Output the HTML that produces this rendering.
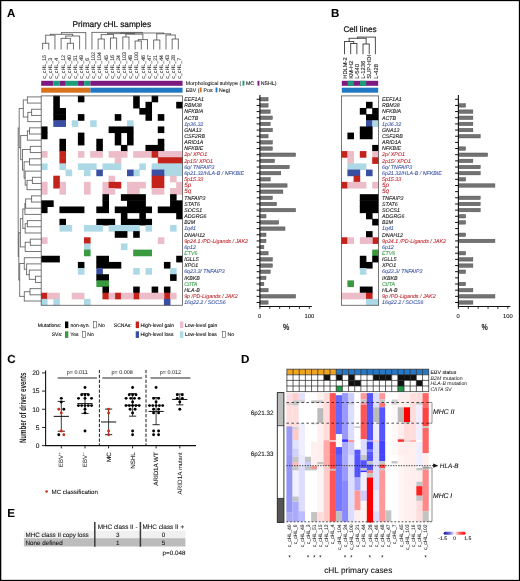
<!DOCTYPE html>
<html><head><meta charset="utf-8"><title>cHL figure</title>
<style>html,body{margin:0;padding:0;background:#fff}svg{display:block}text{font-family:"Liberation Sans",sans-serif;text-rendering:geometricPrecision}</style></head>
<body>
<svg width="520" height="581" viewBox="0 0 520 581">
<rect x="0" y="0" width="520" height="581" fill="#fff"/>
<rect x="41.20" y="95.90" width="141.36" height="209.37" fill="#fff" />
<rect x="53.29" y="95.65" width="6.55" height="6.66" fill="#000000" />
<rect x="77.88" y="95.65" width="6.55" height="6.66" fill="#000000" />
<rect x="133.19" y="95.65" width="6.55" height="6.66" fill="#000000" />
<rect x="151.63" y="95.65" width="6.55" height="6.66" fill="#000000" />
<rect x="53.29" y="101.81" width="6.55" height="6.66" fill="#000000" />
<rect x="133.19" y="101.81" width="6.55" height="6.66" fill="#000000" />
<rect x="145.48" y="101.81" width="6.55" height="6.66" fill="#000000" />
<rect x="176.21" y="101.81" width="6.55" height="6.66" fill="#000000" />
<rect x="53.29" y="107.97" width="12.69" height="6.66" fill="#000000" />
<rect x="139.34" y="107.97" width="12.69" height="6.66" fill="#000000" />
<rect x="53.29" y="114.12" width="12.69" height="6.66" fill="#000000" />
<rect x="77.88" y="114.12" width="6.55" height="6.66" fill="#000000" />
<rect x="114.75" y="114.12" width="6.55" height="6.66" fill="#000000" />
<rect x="145.48" y="114.12" width="6.55" height="6.66" fill="#000000" />
<rect x="157.77" y="114.12" width="6.55" height="6.66" fill="#000000" />
<rect x="53.29" y="120.28" width="12.69" height="6.66" fill="#3a4ea2" />
<rect x="71.73" y="120.28" width="6.55" height="6.66" fill="#add8e6" />
<rect x="90.17" y="120.28" width="6.55" height="6.66" fill="#add8e6" />
<rect x="127.04" y="120.28" width="6.55" height="6.66" fill="#add8e6" />
<rect x="41.00" y="126.44" width="6.55" height="6.66" fill="#000000" />
<rect x="108.61" y="126.44" width="24.98" height="6.66" fill="#000000" />
<rect x="157.77" y="126.44" width="6.55" height="6.66" fill="#000000" />
<rect x="41.00" y="132.60" width="6.55" height="6.66" fill="#000000" />
<rect x="77.88" y="132.60" width="6.55" height="6.66" fill="#000000" />
<rect x="114.75" y="132.60" width="6.55" height="6.66" fill="#000000" />
<rect x="127.04" y="132.60" width="6.55" height="6.66" fill="#000000" />
<rect x="59.44" y="138.76" width="6.55" height="6.66" fill="#000000" />
<rect x="77.88" y="138.76" width="6.55" height="6.66" fill="#000000" />
<rect x="96.31" y="138.76" width="6.55" height="6.66" fill="#000000" />
<rect x="114.75" y="138.76" width="6.55" height="6.66" fill="#000000" />
<rect x="127.04" y="138.76" width="6.55" height="6.66" fill="#000000" />
<rect x="157.77" y="138.76" width="6.55" height="6.66" fill="#000000" />
<rect x="59.44" y="144.91" width="6.55" height="6.66" fill="#000000" />
<rect x="96.31" y="144.91" width="6.55" height="6.66" fill="#000000" />
<rect x="120.90" y="144.91" width="6.55" height="6.66" fill="#000000" />
<rect x="145.48" y="144.91" width="18.84" height="6.66" fill="#000000" />
<rect x="41.00" y="151.07" width="6.55" height="6.66" fill="#ecbcc8" />
<rect x="77.88" y="151.07" width="6.55" height="6.66" fill="#ecbcc8" />
<rect x="90.17" y="151.07" width="12.69" height="6.66" fill="#ecbcc8" />
<rect x="108.61" y="151.07" width="18.84" height="6.66" fill="#ecbcc8" />
<rect x="133.19" y="151.07" width="18.84" height="6.66" fill="#ecbcc8" />
<rect x="157.77" y="151.07" width="24.98" height="6.66" fill="#ecbcc8" />
<rect x="59.44" y="151.07" width="6.55" height="6.66" fill="#c4231b" />
<rect x="151.63" y="151.07" width="6.55" height="6.66" fill="#c4231b" />
<rect x="59.44" y="157.23" width="6.55" height="6.66" fill="#c4231b" />
<rect x="157.77" y="157.23" width="24.98" height="6.66" fill="#c4231b" />
<rect x="114.75" y="157.23" width="6.55" height="6.66" fill="#ecbcc8" />
<rect x="41.00" y="163.39" width="6.55" height="6.66" fill="#add8e6" />
<rect x="59.44" y="163.39" width="6.55" height="6.66" fill="#add8e6" />
<rect x="77.88" y="163.39" width="18.84" height="6.66" fill="#add8e6" />
<rect x="102.46" y="163.39" width="18.84" height="6.66" fill="#add8e6" />
<rect x="139.34" y="163.39" width="6.55" height="6.66" fill="#add8e6" />
<rect x="151.63" y="163.39" width="31.13" height="6.66" fill="#add8e6" />
<rect x="65.58" y="169.55" width="6.55" height="6.66" fill="#add8e6" />
<rect x="84.02" y="169.55" width="6.55" height="6.66" fill="#add8e6" />
<rect x="133.19" y="169.55" width="6.55" height="6.66" fill="#add8e6" />
<rect x="163.92" y="169.55" width="18.84" height="6.66" fill="#add8e6" />
<rect x="96.31" y="169.55" width="6.55" height="6.66" fill="#3a4ea2" />
<rect x="127.04" y="169.55" width="6.55" height="6.66" fill="#3a4ea2" />
<rect x="151.63" y="169.55" width="12.69" height="6.66" fill="#3a4ea2" />
<rect x="53.29" y="175.70" width="6.55" height="6.66" fill="#c4231b" />
<rect x="151.63" y="175.70" width="12.69" height="6.66" fill="#c4231b" />
<rect x="108.61" y="175.70" width="6.55" height="6.66" fill="#ecbcc8" />
<rect x="170.07" y="175.70" width="6.55" height="6.66" fill="#ecbcc8" />
<rect x="41.00" y="181.86" width="6.55" height="6.66" fill="#ecbcc8" />
<rect x="59.44" y="181.86" width="6.55" height="6.66" fill="#ecbcc8" />
<rect x="84.02" y="181.86" width="6.55" height="6.66" fill="#ecbcc8" />
<rect x="102.46" y="181.86" width="6.55" height="6.66" fill="#ecbcc8" />
<rect x="127.04" y="181.86" width="18.84" height="6.66" fill="#ecbcc8" />
<rect x="176.21" y="181.86" width="6.55" height="6.66" fill="#ecbcc8" />
<rect x="53.29" y="181.86" width="6.55" height="6.66" fill="#c4231b" />
<rect x="108.61" y="181.86" width="12.69" height="6.66" fill="#c4231b" />
<rect x="151.63" y="181.86" width="12.69" height="6.66" fill="#c4231b" />
<rect x="41.00" y="188.02" width="6.55" height="6.66" fill="#ecbcc8" />
<rect x="59.44" y="188.02" width="6.55" height="6.66" fill="#ecbcc8" />
<rect x="84.02" y="188.02" width="6.55" height="6.66" fill="#ecbcc8" />
<rect x="102.46" y="188.02" width="12.69" height="6.66" fill="#ecbcc8" />
<rect x="127.04" y="188.02" width="12.69" height="6.66" fill="#ecbcc8" />
<rect x="151.63" y="188.02" width="12.69" height="6.66" fill="#ecbcc8" />
<rect x="170.07" y="188.02" width="12.69" height="6.66" fill="#ecbcc8" />
<rect x="102.46" y="194.18" width="6.55" height="6.66" fill="#000000" />
<rect x="120.90" y="194.18" width="24.98" height="6.66" fill="#000000" />
<rect x="170.07" y="194.18" width="6.55" height="6.66" fill="#000000" />
<rect x="41.00" y="200.34" width="12.69" height="6.66" fill="#000000" />
<rect x="102.46" y="200.34" width="6.55" height="6.66" fill="#000000" />
<rect x="127.04" y="200.34" width="18.84" height="6.66" fill="#000000" />
<rect x="170.07" y="200.34" width="12.69" height="6.66" fill="#000000" />
<rect x="41.00" y="206.49" width="6.55" height="6.66" fill="#000000" />
<rect x="59.44" y="206.49" width="24.98" height="6.66" fill="#000000" />
<rect x="96.31" y="206.49" width="12.69" height="6.66" fill="#000000" />
<rect x="114.75" y="206.49" width="37.28" height="6.66" fill="#000000" />
<rect x="157.77" y="206.49" width="24.98" height="6.66" fill="#000000" />
<rect x="120.90" y="212.65" width="6.55" height="6.66" fill="#000000" />
<rect x="139.34" y="212.65" width="6.55" height="6.66" fill="#000000" />
<rect x="176.21" y="212.65" width="6.55" height="6.66" fill="#000000" />
<rect x="59.44" y="218.81" width="6.55" height="6.66" fill="#000000" />
<rect x="96.31" y="218.81" width="18.84" height="6.66" fill="#000000" />
<rect x="120.90" y="218.81" width="31.13" height="6.66" fill="#000000" />
<rect x="59.44" y="224.97" width="12.69" height="6.66" fill="#add8e6" />
<rect x="84.02" y="224.97" width="18.84" height="6.66" fill="#add8e6" />
<rect x="108.61" y="224.97" width="31.13" height="6.66" fill="#add8e6" />
<rect x="145.48" y="224.97" width="6.55" height="6.66" fill="#add8e6" />
<rect x="170.07" y="224.97" width="6.55" height="6.66" fill="#add8e6" />
<rect x="114.75" y="231.13" width="12.69" height="6.66" fill="#000000" />
<rect x="133.19" y="231.13" width="6.55" height="6.66" fill="#000000" />
<rect x="41.00" y="237.28" width="6.55" height="6.66" fill="#ecbcc8" />
<rect x="157.77" y="237.28" width="6.55" height="6.66" fill="#ecbcc8" />
<rect x="84.02" y="237.28" width="6.55" height="6.66" fill="#c4231b" />
<rect x="84.02" y="243.44" width="6.55" height="6.66" fill="#add8e6" />
<rect x="120.90" y="243.44" width="6.55" height="6.66" fill="#add8e6" />
<rect x="84.02" y="249.60" width="6.55" height="6.66" fill="#3a9a40" />
<rect x="133.19" y="249.60" width="18.84" height="6.66" fill="#3a9a40" />
<rect x="41.00" y="255.76" width="18.84" height="6.66" fill="#000000" />
<rect x="96.31" y="255.76" width="12.69" height="6.66" fill="#000000" />
<rect x="176.21" y="255.76" width="6.55" height="6.66" fill="#000000" />
<rect x="77.88" y="261.92" width="6.55" height="6.66" fill="#000000" />
<rect x="96.31" y="261.92" width="24.98" height="6.66" fill="#000000" />
<rect x="163.92" y="261.92" width="6.55" height="6.66" fill="#000000" />
<rect x="77.88" y="268.07" width="6.55" height="6.66" fill="#add8e6" />
<rect x="133.19" y="268.07" width="6.55" height="6.66" fill="#add8e6" />
<rect x="145.48" y="268.07" width="6.55" height="6.66" fill="#add8e6" />
<rect x="170.07" y="268.07" width="6.55" height="6.66" fill="#add8e6" />
<rect x="96.31" y="268.07" width="6.55" height="6.66" fill="#3a4ea2" />
<rect x="96.31" y="274.23" width="12.69" height="6.66" fill="#000000" />
<rect x="170.07" y="274.23" width="6.55" height="6.66" fill="#000000" />
<rect x="96.31" y="280.39" width="12.69" height="6.66" fill="#3a9a40" />
<rect x="102.46" y="286.55" width="6.55" height="6.66" fill="#000000" />
<rect x="133.19" y="286.55" width="6.55" height="6.66" fill="#000000" />
<rect x="151.63" y="286.55" width="6.55" height="6.66" fill="#000000" />
<rect x="163.92" y="286.55" width="6.55" height="6.66" fill="#000000" />
<rect x="41.00" y="292.71" width="6.55" height="6.66" fill="#c4231b" />
<rect x="102.46" y="292.71" width="6.55" height="6.66" fill="#c4231b" />
<rect x="114.75" y="292.71" width="6.55" height="6.66" fill="#c4231b" />
<rect x="133.19" y="292.71" width="6.55" height="6.66" fill="#c4231b" />
<rect x="163.92" y="292.71" width="6.55" height="6.66" fill="#c4231b" />
<rect x="47.15" y="292.71" width="12.69" height="6.66" fill="#ecbcc8" />
<rect x="71.73" y="292.71" width="12.69" height="6.66" fill="#ecbcc8" />
<rect x="108.61" y="292.71" width="6.55" height="6.66" fill="#ecbcc8" />
<rect x="120.90" y="292.71" width="12.69" height="6.66" fill="#ecbcc8" />
<rect x="139.34" y="292.71" width="24.98" height="6.66" fill="#ecbcc8" />
<rect x="170.07" y="292.71" width="6.55" height="6.66" fill="#ecbcc8" />
<rect x="41.00" y="298.86" width="6.55" height="6.66" fill="#add8e6" />
<rect x="53.29" y="298.86" width="6.55" height="6.66" fill="#add8e6" />
<rect x="84.02" y="298.86" width="6.55" height="6.66" fill="#add8e6" />
<rect x="163.92" y="298.86" width="6.55" height="6.66" fill="#3a4ea2" />
<rect x="41.20" y="95.90" width="141.36" height="209.37" fill="none" stroke="#555" stroke-width="0.8"/>
<text x="184.16" y="101.05" font-size="5.3" fill="#1a1a1a" stroke="#1a1a1a" stroke-width="0.08" font-style="italic" >EEF1A1</text>
<text x="184.16" y="107.21" font-size="5.3" fill="#1a1a1a" stroke="#1a1a1a" stroke-width="0.08" font-style="italic" >RBM38</text>
<text x="184.16" y="113.37" font-size="5.3" fill="#1a1a1a" stroke="#1a1a1a" stroke-width="0.08" font-style="italic" >NFKBIA</text>
<text x="184.16" y="119.52" font-size="5.3" fill="#1a1a1a" stroke="#1a1a1a" stroke-width="0.08" font-style="italic" >ACTB</text>
<text x="184.16" y="125.68" font-size="5.3" fill="#3b55a5" stroke="#3b55a5" stroke-width="0.08" font-style="italic" >1p36.32</text>
<text x="184.16" y="131.84" font-size="5.3" fill="#1a1a1a" stroke="#1a1a1a" stroke-width="0.08" font-style="italic" >GNA13</text>
<text x="184.16" y="138.00" font-size="5.3" fill="#1a1a1a" stroke="#1a1a1a" stroke-width="0.08" font-style="italic" >CSF2RB</text>
<text x="184.16" y="144.16" font-size="5.3" fill="#1a1a1a" stroke="#1a1a1a" stroke-width="0.08" font-style="italic" >ARID1A</text>
<text x="184.16" y="150.31" font-size="5.3" fill="#1a1a1a" stroke="#1a1a1a" stroke-width="0.08" font-style="italic" >NFKBIE</text>
<text x="184.16" y="156.47" font-size="5.3" fill="#c1272d" stroke="#c1272d" stroke-width="0.08" font-style="italic" >2p/ XPO1</text>
<text x="184.16" y="162.63" font-size="5.3" fill="#c1272d" stroke="#c1272d" stroke-width="0.08" font-style="italic" >2p15/ XPO1</text>
<text x="184.16" y="168.79" font-size="5.3" fill="#3b55a5" stroke="#3b55a5" stroke-width="0.08" font-style="italic" >6q/ TNFAIP3</text>
<text x="184.16" y="174.95" font-size="5.3" fill="#3b55a5" stroke="#3b55a5" stroke-width="0.08" font-style="italic" >6p21.32/HLA-B / NFKBIE</text>
<text x="184.16" y="181.10" font-size="5.3" fill="#c1272d" stroke="#c1272d" stroke-width="0.08" font-style="italic" >5p15.33</text>
<text x="184.16" y="187.26" font-size="6.3" fill="#c1272d" stroke="#c1272d" stroke-width="0.08" font-style="italic" >5p</text>
<text x="184.16" y="193.42" font-size="6.3" fill="#c1272d" stroke="#c1272d" stroke-width="0.08" font-style="italic" >5q</text>
<text x="184.16" y="199.58" font-size="5.3" fill="#1a1a1a" stroke="#1a1a1a" stroke-width="0.08" font-style="italic" >TNFAIP3</text>
<text x="184.16" y="205.74" font-size="5.3" fill="#1a1a1a" stroke="#1a1a1a" stroke-width="0.08" font-style="italic" >STAT6</text>
<text x="184.16" y="211.89" font-size="5.3" fill="#1a1a1a" stroke="#1a1a1a" stroke-width="0.08" font-style="italic" >SOCS1</text>
<text x="184.16" y="218.05" font-size="5.3" fill="#1a1a1a" stroke="#1a1a1a" stroke-width="0.08" font-style="italic" >ADGRG6</text>
<text x="184.16" y="224.21" font-size="5.3" fill="#1a1a1a" stroke="#1a1a1a" stroke-width="0.08" font-style="italic" >B2M</text>
<text x="184.16" y="230.37" font-size="5.3" fill="#3b55a5" stroke="#3b55a5" stroke-width="0.08" font-style="italic" >1q41</text>
<text x="184.16" y="236.53" font-size="5.3" fill="#1a1a1a" stroke="#1a1a1a" stroke-width="0.08" font-style="italic" >DNAH12</text>
<text x="184.16" y="242.68" font-size="5.3" fill="#c1272d" stroke="#c1272d" stroke-width="0.08" font-style="italic" >9p24.1 /PD-Ligands / JAK2</text>
<text x="184.16" y="248.84" font-size="5.3" fill="#3b55a5" stroke="#3b55a5" stroke-width="0.08" font-style="italic" >6p12</text>
<text x="184.16" y="255.00" font-size="5.3" fill="#3a9a48" stroke="#3a9a48" stroke-width="0.08" font-style="italic" >ETV6</text>
<text x="184.16" y="261.16" font-size="5.3" fill="#1a1a1a" stroke="#1a1a1a" stroke-width="0.08" font-style="italic" >IGLL5</text>
<text x="184.16" y="267.32" font-size="5.3" fill="#1a1a1a" stroke="#1a1a1a" stroke-width="0.08" font-style="italic" >XPO1</text>
<text x="184.16" y="273.47" font-size="5.3" fill="#3b55a5" stroke="#3b55a5" stroke-width="0.08" font-style="italic" >6q23.3/ TNFAIP3</text>
<text x="184.16" y="279.63" font-size="5.3" fill="#1a1a1a" stroke="#1a1a1a" stroke-width="0.08" font-style="italic" >IKBKB</text>
<text x="184.16" y="285.79" font-size="5.3" fill="#3a9a48" stroke="#3a9a48" stroke-width="0.08" font-style="italic" >CIITA</text>
<text x="184.16" y="291.95" font-size="5.3" fill="#1a1a1a" stroke="#1a1a1a" stroke-width="0.08" font-style="italic" >HLA-B</text>
<text x="184.16" y="298.11" font-size="5.3" fill="#c1272d" stroke="#c1272d" stroke-width="0.08" font-style="italic" >9p /PD-Ligands / JAK2</text>
<text x="184.16" y="304.26" font-size="5.3" fill="#3b55a5" stroke="#3b55a5" stroke-width="0.08" font-style="italic" >16q22.2 / SOCS6</text>
<line x1="256.60" y1="99.28" x2="259.90" y2="99.28" stroke="#000" stroke-width="0.95" />
<rect x="259.90" y="97.58" width="8.19" height="3.4" fill="#737373" stroke="#4d4d4d" stroke-width="0.5"/>
<line x1="256.60" y1="105.44" x2="259.90" y2="105.44" stroke="#000" stroke-width="0.95" />
<rect x="259.90" y="103.74" width="8.19" height="3.4" fill="#737373" stroke="#4d4d4d" stroke-width="0.5"/>
<line x1="256.60" y1="111.59" x2="259.90" y2="111.59" stroke="#000" stroke-width="0.95" />
<rect x="259.90" y="109.89" width="10.30" height="3.4" fill="#737373" stroke="#4d4d4d" stroke-width="0.5"/>
<line x1="256.60" y1="117.75" x2="259.90" y2="117.75" stroke="#000" stroke-width="0.95" />
<rect x="259.90" y="116.05" width="12.41" height="3.4" fill="#737373" stroke="#4d4d4d" stroke-width="0.5"/>
<line x1="256.60" y1="123.91" x2="259.90" y2="123.91" stroke="#000" stroke-width="0.95" />
<rect x="259.90" y="122.21" width="10.30" height="3.4" fill="#737373" stroke="#4d4d4d" stroke-width="0.5"/>
<line x1="256.60" y1="130.07" x2="259.90" y2="130.07" stroke="#000" stroke-width="0.95" />
<rect x="259.90" y="128.37" width="12.41" height="3.4" fill="#737373" stroke="#4d4d4d" stroke-width="0.5"/>
<line x1="256.60" y1="136.23" x2="259.90" y2="136.23" stroke="#000" stroke-width="0.95" />
<rect x="259.90" y="134.53" width="8.19" height="3.4" fill="#737373" stroke="#4d4d4d" stroke-width="0.5"/>
<line x1="256.60" y1="142.39" x2="259.90" y2="142.39" stroke="#000" stroke-width="0.95" />
<rect x="259.90" y="140.69" width="12.41" height="3.4" fill="#737373" stroke="#4d4d4d" stroke-width="0.5"/>
<line x1="256.60" y1="148.54" x2="259.90" y2="148.54" stroke="#000" stroke-width="0.95" />
<rect x="259.90" y="146.84" width="12.41" height="3.4" fill="#737373" stroke="#4d4d4d" stroke-width="0.5"/>
<line x1="256.60" y1="154.70" x2="259.90" y2="154.70" stroke="#000" stroke-width="0.95" />
<rect x="259.90" y="153.00" width="35.62" height="3.4" fill="#737373" stroke="#4d4d4d" stroke-width="0.5"/>
<line x1="256.60" y1="160.86" x2="259.90" y2="160.86" stroke="#000" stroke-width="0.95" />
<rect x="259.90" y="159.16" width="14.52" height="3.4" fill="#737373" stroke="#4d4d4d" stroke-width="0.5"/>
<line x1="256.60" y1="167.02" x2="259.90" y2="167.02" stroke="#000" stroke-width="0.95" />
<rect x="259.90" y="165.32" width="29.29" height="3.4" fill="#737373" stroke="#4d4d4d" stroke-width="0.5"/>
<line x1="256.60" y1="173.18" x2="259.90" y2="173.18" stroke="#000" stroke-width="0.95" />
<rect x="259.90" y="171.47" width="20.85" height="3.4" fill="#737373" stroke="#4d4d4d" stroke-width="0.5"/>
<line x1="256.60" y1="179.33" x2="259.90" y2="179.33" stroke="#000" stroke-width="0.95" />
<rect x="259.90" y="177.63" width="10.30" height="3.4" fill="#737373" stroke="#4d4d4d" stroke-width="0.5"/>
<line x1="256.60" y1="185.49" x2="259.90" y2="185.49" stroke="#000" stroke-width="0.95" />
<rect x="259.90" y="183.79" width="27.18" height="3.4" fill="#737373" stroke="#4d4d4d" stroke-width="0.5"/>
<line x1="256.60" y1="191.65" x2="259.90" y2="191.65" stroke="#000" stroke-width="0.95" />
<rect x="259.90" y="189.95" width="22.96" height="3.4" fill="#737373" stroke="#4d4d4d" stroke-width="0.5"/>
<line x1="256.60" y1="197.81" x2="259.90" y2="197.81" stroke="#000" stroke-width="0.95" />
<rect x="259.90" y="196.11" width="12.41" height="3.4" fill="#737373" stroke="#4d4d4d" stroke-width="0.5"/>
<line x1="256.60" y1="203.97" x2="259.90" y2="203.97" stroke="#000" stroke-width="0.95" />
<rect x="259.90" y="202.27" width="16.63" height="3.4" fill="#737373" stroke="#4d4d4d" stroke-width="0.5"/>
<line x1="256.60" y1="210.12" x2="259.90" y2="210.12" stroke="#000" stroke-width="0.95" />
<rect x="259.90" y="208.42" width="35.62" height="3.4" fill="#737373" stroke="#4d4d4d" stroke-width="0.5"/>
<line x1="256.60" y1="216.28" x2="259.90" y2="216.28" stroke="#000" stroke-width="0.95" />
<rect x="259.90" y="214.58" width="6.08" height="3.4" fill="#737373" stroke="#4d4d4d" stroke-width="0.5"/>
<line x1="256.60" y1="222.44" x2="259.90" y2="222.44" stroke="#000" stroke-width="0.95" />
<rect x="259.90" y="220.74" width="18.74" height="3.4" fill="#737373" stroke="#4d4d4d" stroke-width="0.5"/>
<line x1="256.60" y1="228.60" x2="259.90" y2="228.60" stroke="#000" stroke-width="0.95" />
<rect x="259.90" y="226.90" width="25.07" height="3.4" fill="#737373" stroke="#4d4d4d" stroke-width="0.5"/>
<line x1="256.60" y1="234.76" x2="259.90" y2="234.76" stroke="#000" stroke-width="0.95" />
<rect x="259.90" y="233.06" width="6.08" height="3.4" fill="#737373" stroke="#4d4d4d" stroke-width="0.5"/>
<line x1="256.60" y1="240.91" x2="259.90" y2="240.91" stroke="#000" stroke-width="0.95" />
<rect x="259.90" y="239.21" width="6.08" height="3.4" fill="#737373" stroke="#4d4d4d" stroke-width="0.5"/>
<line x1="256.60" y1="247.07" x2="259.90" y2="247.07" stroke="#000" stroke-width="0.95" />
<rect x="259.90" y="245.37" width="3.97" height="3.4" fill="#737373" stroke="#4d4d4d" stroke-width="0.5"/>
<line x1="256.60" y1="253.23" x2="259.90" y2="253.23" stroke="#000" stroke-width="0.95" />
<rect x="259.90" y="251.53" width="8.19" height="3.4" fill="#737373" stroke="#4d4d4d" stroke-width="0.5"/>
<line x1="256.60" y1="259.39" x2="259.90" y2="259.39" stroke="#000" stroke-width="0.95" />
<rect x="259.90" y="257.69" width="12.41" height="3.4" fill="#737373" stroke="#4d4d4d" stroke-width="0.5"/>
<line x1="256.60" y1="265.55" x2="259.90" y2="265.55" stroke="#000" stroke-width="0.95" />
<rect x="259.90" y="263.85" width="12.41" height="3.4" fill="#737373" stroke="#4d4d4d" stroke-width="0.5"/>
<line x1="256.60" y1="271.70" x2="259.90" y2="271.70" stroke="#000" stroke-width="0.95" />
<rect x="259.90" y="270.00" width="10.30" height="3.4" fill="#737373" stroke="#4d4d4d" stroke-width="0.5"/>
<line x1="256.60" y1="277.86" x2="259.90" y2="277.86" stroke="#000" stroke-width="0.95" />
<rect x="259.90" y="276.16" width="6.08" height="3.4" fill="#737373" stroke="#4d4d4d" stroke-width="0.5"/>
<line x1="256.60" y1="284.02" x2="259.90" y2="284.02" stroke="#000" stroke-width="0.95" />
<rect x="259.90" y="282.32" width="3.97" height="3.4" fill="#737373" stroke="#4d4d4d" stroke-width="0.5"/>
<line x1="256.60" y1="290.18" x2="259.90" y2="290.18" stroke="#000" stroke-width="0.95" />
<rect x="259.90" y="288.48" width="8.19" height="3.4" fill="#737373" stroke="#4d4d4d" stroke-width="0.5"/>
<line x1="256.60" y1="296.34" x2="259.90" y2="296.34" stroke="#000" stroke-width="0.95" />
<rect x="259.90" y="294.64" width="35.62" height="3.4" fill="#737373" stroke="#4d4d4d" stroke-width="0.5"/>
<line x1="256.60" y1="302.49" x2="259.90" y2="302.49" stroke="#000" stroke-width="0.95" />
<rect x="259.90" y="300.79" width="8.19" height="3.4" fill="#737373" stroke="#4d4d4d" stroke-width="0.5"/>
<line x1="259.90" y1="94.90" x2="259.90" y2="306.70" stroke="#111" stroke-width="1.1" />
<line x1="259.40" y1="306.50" x2="311.90" y2="306.50" stroke="#111" stroke-width="1.0" />
<line x1="259.90" y1="306.50" x2="259.90" y2="309.00" stroke="#111" stroke-width="0.8" />
<line x1="269.78" y1="306.50" x2="269.78" y2="309.00" stroke="#111" stroke-width="0.8" />
<line x1="279.66" y1="306.50" x2="279.66" y2="309.00" stroke="#111" stroke-width="0.8" />
<line x1="289.54" y1="306.50" x2="289.54" y2="309.00" stroke="#111" stroke-width="0.8" />
<line x1="299.42" y1="306.50" x2="299.42" y2="309.00" stroke="#111" stroke-width="0.8" />
<line x1="309.30" y1="306.50" x2="309.30" y2="309.00" stroke="#111" stroke-width="0.8" />
<text x="259.60" y="317.60" font-size="5.8" fill="#111" stroke="#111" stroke-width="0.08" text-anchor="middle" >0</text>
<text x="309.30" y="317.60" font-size="5.8" fill="#111" stroke="#111" stroke-width="0.08" text-anchor="middle" >100</text>
<text x="286.10" y="330.40" font-size="9" fill="#222" stroke="#222" stroke-width="0.08" text-anchor="middle" font-weight="bold" textLength="6.3" lengthAdjust="spacingAndGlyphs">%</text>
<rect x="41.20" y="80.80" width="12.29" height="5.00" fill="#7d1a80" />
<rect x="53.49" y="80.80" width="6.15" height="5.00" fill="#1c9c78" />
<rect x="59.64" y="80.80" width="6.15" height="5.00" fill="#7d1a80" />
<rect x="65.78" y="80.80" width="12.29" height="5.00" fill="#1c9c78" />
<rect x="78.08" y="80.80" width="6.15" height="5.00" fill="#7d1a80" />
<rect x="84.22" y="80.80" width="6.15" height="5.00" fill="#1c9c78" />
<rect x="90.37" y="80.80" width="92.19" height="5.00" fill="#7d1a80" />
<rect x="41.20" y="87.70" width="49.17" height="5.00" fill="#d8721c" />
<rect x="90.37" y="87.70" width="92.19" height="5.00" fill="#2277c2" />
<text x="46.17" y="78.80" font-size="5.3" fill="#333" stroke="#333" stroke-width="0.08" transform="rotate(-90 46.17 78.80)" >c_cHL_15</text>
<text x="52.32" y="78.80" font-size="5.3" fill="#333" stroke="#333" stroke-width="0.08" transform="rotate(-90 52.32 78.80)" >c_cHL_3</text>
<text x="58.47" y="78.80" font-size="5.3" fill="#333" stroke="#333" stroke-width="0.08" transform="rotate(-90 58.47 78.80)" >c_cHL_4</text>
<text x="64.61" y="78.80" font-size="5.3" fill="#333" stroke="#333" stroke-width="0.08" transform="rotate(-90 64.61 78.80)" >c_cHL_12</text>
<text x="70.76" y="78.80" font-size="5.3" fill="#333" stroke="#333" stroke-width="0.08" transform="rotate(-90 70.76 78.80)" >c_cHL_40</text>
<text x="76.90" y="78.80" font-size="5.3" fill="#333" stroke="#333" stroke-width="0.08" transform="rotate(-90 76.90 78.80)" >c_cHL_51</text>
<text x="83.05" y="78.80" font-size="5.3" fill="#333" stroke="#333" stroke-width="0.08" transform="rotate(-90 83.05 78.80)" >c_cHL_49</text>
<text x="89.20" y="78.80" font-size="5.3" fill="#333" stroke="#333" stroke-width="0.08" transform="rotate(-90 89.20 78.80)" >c_cHL_6</text>
<text x="95.34" y="78.80" font-size="5.3" fill="#333" stroke="#333" stroke-width="0.08" transform="rotate(-90 95.34 78.80)" >c_cHL_102</text>
<text x="101.49" y="78.80" font-size="5.3" fill="#333" stroke="#333" stroke-width="0.08" transform="rotate(-90 101.49 78.80)" >c_cHL_104</text>
<text x="107.63" y="78.80" font-size="5.3" fill="#333" stroke="#333" stroke-width="0.08" transform="rotate(-90 107.63 78.80)" >c_cHL_45</text>
<text x="113.78" y="78.80" font-size="5.3" fill="#333" stroke="#333" stroke-width="0.08" transform="rotate(-90 113.78 78.80)" >c_cHL_16</text>
<text x="119.93" y="78.80" font-size="5.3" fill="#333" stroke="#333" stroke-width="0.08" transform="rotate(-90 119.93 78.80)" >c_cHL_24</text>
<text x="126.07" y="78.80" font-size="5.3" fill="#333" stroke="#333" stroke-width="0.08" transform="rotate(-90 126.07 78.80)" >c_cHL_103</text>
<text x="132.22" y="78.80" font-size="5.3" fill="#333" stroke="#333" stroke-width="0.08" transform="rotate(-90 132.22 78.80)" >c_cHL_48</text>
<text x="138.36" y="78.80" font-size="5.3" fill="#333" stroke="#333" stroke-width="0.08" transform="rotate(-90 138.36 78.80)" >c_cHL_100</text>
<text x="144.51" y="78.80" font-size="5.3" fill="#333" stroke="#333" stroke-width="0.08" transform="rotate(-90 144.51 78.80)" >c_cHL_46</text>
<text x="150.66" y="78.80" font-size="5.3" fill="#333" stroke="#333" stroke-width="0.08" transform="rotate(-90 150.66 78.80)" >c_cHL_47</text>
<text x="156.80" y="78.80" font-size="5.3" fill="#333" stroke="#333" stroke-width="0.08" transform="rotate(-90 156.80 78.80)" >c_cHL_21</text>
<text x="162.95" y="78.80" font-size="5.3" fill="#333" stroke="#333" stroke-width="0.08" transform="rotate(-90 162.95 78.80)" >c_cHL_44</text>
<text x="169.09" y="78.80" font-size="5.3" fill="#333" stroke="#333" stroke-width="0.08" transform="rotate(-90 169.09 78.80)" >c_cHL_43</text>
<text x="175.24" y="78.80" font-size="5.3" fill="#333" stroke="#333" stroke-width="0.08" transform="rotate(-90 175.24 78.80)" >c_cHL_28</text>
<text x="181.39" y="78.80" font-size="5.3" fill="#333" stroke="#333" stroke-width="0.08" transform="rotate(-90 181.39 78.80)" >c_cHL_7</text>
<text x="111.80" y="26.90" font-size="8.3" fill="#111" stroke="#111" text-anchor="middle" stroke-width="0.22">Primary cHL samples</text>
<text x="7.00" y="17.00" font-size="11.5" fill="#000" stroke="#000" stroke-width="0.08" font-weight="bold" >A</text>
<text x="185.80" y="85.00" font-size="5.22" fill="#111" stroke="#111" stroke-width="0.08" >Morphological subtype (</text>
<rect x="242.50" y="80.80" width="1.90" height="4.80" fill="#1c9c78" />
<text x="246.00" y="85.00" font-size="5.22" fill="#111" stroke="#111" stroke-width="0.08" >MC</text>
<rect x="257.50" y="80.80" width="1.90" height="4.80" fill="#7d1a80" />
<text x="260.80" y="85.00" font-size="5.22" fill="#111" stroke="#111" stroke-width="0.08" >NSHL)</text>
<text x="185.80" y="91.80" font-size="5.22" fill="#111" stroke="#111" stroke-width="0.08" >EBV (</text>
<rect x="199.80" y="87.50" width="1.80" height="4.80" fill="#d8721c" />
<text x="203.50" y="91.80" font-size="5.22" fill="#111" stroke="#111" stroke-width="0.08" >Pos</text>
<rect x="215.60" y="87.50" width="1.80" height="4.80" fill="#2277c2" />
<text x="219.00" y="91.80" font-size="5.22" fill="#111" stroke="#111" stroke-width="0.08" >Neg)</text>
<line x1="42.60" y1="49.50" x2="42.60" y2="43.30" stroke="#444" stroke-width="0.75" />
<line x1="48.77" y1="49.50" x2="48.77" y2="43.30" stroke="#444" stroke-width="0.75" />
<line x1="42.23" y1="43.30" x2="49.15" y2="43.30" stroke="#444" stroke-width="0.75" />
<line x1="45.69" y1="43.30" x2="45.69" y2="35.20" stroke="#444" stroke-width="0.75" />
<line x1="54.94" y1="49.50" x2="54.94" y2="35.20" stroke="#444" stroke-width="0.75" />
<line x1="45.31" y1="35.20" x2="55.31" y2="35.20" stroke="#444" stroke-width="0.75" />
<line x1="67.28" y1="49.50" x2="67.28" y2="43.30" stroke="#444" stroke-width="0.75" />
<line x1="73.45" y1="49.50" x2="73.45" y2="43.30" stroke="#444" stroke-width="0.75" />
<line x1="66.91" y1="43.30" x2="73.83" y2="43.30" stroke="#444" stroke-width="0.75" />
<line x1="61.11" y1="49.50" x2="61.11" y2="38.40" stroke="#444" stroke-width="0.75" />
<line x1="70.37" y1="43.30" x2="70.37" y2="38.40" stroke="#444" stroke-width="0.75" />
<line x1="60.73" y1="38.40" x2="70.74" y2="38.40" stroke="#444" stroke-width="0.75" />
<line x1="65.74" y1="38.40" x2="65.74" y2="36.00" stroke="#444" stroke-width="0.75" />
<line x1="79.62" y1="49.50" x2="79.62" y2="36.00" stroke="#444" stroke-width="0.75" />
<line x1="65.36" y1="36.00" x2="80.00" y2="36.00" stroke="#444" stroke-width="0.75" />
<line x1="50.31" y1="35.20" x2="50.31" y2="34.30" stroke="#444" stroke-width="0.75" />
<line x1="72.68" y1="36.00" x2="72.68" y2="34.30" stroke="#444" stroke-width="0.75" />
<line x1="49.94" y1="34.30" x2="73.05" y2="34.30" stroke="#444" stroke-width="0.75" />
<line x1="61.50" y1="34.30" x2="61.50" y2="32.60" stroke="#444" stroke-width="0.75" />
<line x1="85.79" y1="49.50" x2="85.79" y2="32.60" stroke="#444" stroke-width="0.75" />
<line x1="61.12" y1="32.60" x2="86.16" y2="32.60" stroke="#444" stroke-width="0.75" />
<line x1="98.13" y1="49.50" x2="98.13" y2="39.00" stroke="#444" stroke-width="0.75" />
<line x1="104.30" y1="49.50" x2="104.30" y2="39.00" stroke="#444" stroke-width="0.75" />
<line x1="97.75" y1="39.00" x2="104.68" y2="39.00" stroke="#444" stroke-width="0.75" />
<line x1="110.47" y1="49.50" x2="110.47" y2="38.00" stroke="#444" stroke-width="0.75" />
<line x1="116.64" y1="49.50" x2="116.64" y2="38.00" stroke="#444" stroke-width="0.75" />
<line x1="110.09" y1="38.00" x2="117.01" y2="38.00" stroke="#444" stroke-width="0.75" />
<line x1="101.22" y1="39.00" x2="101.22" y2="34.60" stroke="#444" stroke-width="0.75" />
<line x1="113.55" y1="38.00" x2="113.55" y2="34.60" stroke="#444" stroke-width="0.75" />
<line x1="100.84" y1="34.60" x2="113.93" y2="34.60" stroke="#444" stroke-width="0.75" />
<line x1="122.81" y1="49.50" x2="122.81" y2="37.00" stroke="#444" stroke-width="0.75" />
<line x1="128.98" y1="49.50" x2="128.98" y2="37.00" stroke="#444" stroke-width="0.75" />
<line x1="122.44" y1="37.00" x2="129.35" y2="37.00" stroke="#444" stroke-width="0.75" />
<line x1="135.15" y1="49.50" x2="135.15" y2="41.00" stroke="#444" stroke-width="0.75" />
<line x1="141.32" y1="49.50" x2="141.32" y2="41.00" stroke="#444" stroke-width="0.75" />
<line x1="134.78" y1="41.00" x2="141.69" y2="41.00" stroke="#444" stroke-width="0.75" />
<line x1="138.24" y1="41.00" x2="138.24" y2="39.60" stroke="#444" stroke-width="0.75" />
<line x1="147.49" y1="49.50" x2="147.49" y2="39.60" stroke="#444" stroke-width="0.75" />
<line x1="137.86" y1="39.60" x2="147.87" y2="39.60" stroke="#444" stroke-width="0.75" />
<line x1="125.89" y1="37.00" x2="125.89" y2="34.20" stroke="#444" stroke-width="0.75" />
<line x1="142.86" y1="39.60" x2="142.86" y2="34.20" stroke="#444" stroke-width="0.75" />
<line x1="125.52" y1="34.20" x2="143.24" y2="34.20" stroke="#444" stroke-width="0.75" />
<line x1="107.38" y1="34.60" x2="107.38" y2="33.60" stroke="#444" stroke-width="0.75" />
<line x1="134.38" y1="34.20" x2="134.38" y2="33.60" stroke="#444" stroke-width="0.75" />
<line x1="107.01" y1="33.60" x2="134.75" y2="33.60" stroke="#444" stroke-width="0.75" />
<line x1="153.66" y1="49.50" x2="153.66" y2="40.00" stroke="#444" stroke-width="0.75" />
<line x1="159.83" y1="49.50" x2="159.83" y2="40.00" stroke="#444" stroke-width="0.75" />
<line x1="153.28" y1="40.00" x2="160.21" y2="40.00" stroke="#444" stroke-width="0.75" />
<line x1="172.17" y1="49.50" x2="172.17" y2="39.00" stroke="#444" stroke-width="0.75" />
<line x1="178.34" y1="49.50" x2="178.34" y2="39.00" stroke="#444" stroke-width="0.75" />
<line x1="171.79" y1="39.00" x2="178.72" y2="39.00" stroke="#444" stroke-width="0.75" />
<line x1="166.00" y1="49.50" x2="166.00" y2="35.00" stroke="#444" stroke-width="0.75" />
<line x1="175.25" y1="39.00" x2="175.25" y2="35.00" stroke="#444" stroke-width="0.75" />
<line x1="165.62" y1="35.00" x2="175.63" y2="35.00" stroke="#444" stroke-width="0.75" />
<line x1="156.75" y1="40.00" x2="156.75" y2="33.80" stroke="#444" stroke-width="0.75" />
<line x1="170.63" y1="35.00" x2="170.63" y2="33.80" stroke="#444" stroke-width="0.75" />
<line x1="156.37" y1="33.80" x2="171.00" y2="33.80" stroke="#444" stroke-width="0.75" />
<line x1="120.88" y1="33.60" x2="120.88" y2="33.00" stroke="#444" stroke-width="0.75" />
<line x1="163.69" y1="33.80" x2="163.69" y2="33.00" stroke="#444" stroke-width="0.75" />
<line x1="120.51" y1="33.00" x2="164.06" y2="33.00" stroke="#444" stroke-width="0.75" />
<line x1="91.96" y1="49.50" x2="91.96" y2="32.40" stroke="#444" stroke-width="0.75" />
<line x1="142.28" y1="33.00" x2="142.28" y2="32.40" stroke="#444" stroke-width="0.75" />
<line x1="91.59" y1="32.40" x2="142.66" y2="32.40" stroke="#444" stroke-width="0.75" />
<line x1="41.00" y1="96.90" x2="27.40" y2="96.90" stroke="#4a4a4a" stroke-width="0.75" />
<line x1="41.00" y1="103.09" x2="27.40" y2="103.09" stroke="#4a4a4a" stroke-width="0.75" />
<line x1="27.40" y1="96.53" x2="27.40" y2="103.46" stroke="#4a4a4a" stroke-width="0.75" />
<line x1="41.00" y1="109.27" x2="31.60" y2="109.27" stroke="#4a4a4a" stroke-width="0.75" />
<line x1="41.00" y1="115.46" x2="31.60" y2="115.46" stroke="#4a4a4a" stroke-width="0.75" />
<line x1="31.60" y1="108.90" x2="31.60" y2="115.83" stroke="#4a4a4a" stroke-width="0.75" />
<line x1="31.60" y1="112.36" x2="27.80" y2="112.36" stroke="#4a4a4a" stroke-width="0.75" />
<line x1="41.00" y1="121.64" x2="27.80" y2="121.64" stroke="#4a4a4a" stroke-width="0.75" />
<line x1="27.80" y1="111.99" x2="27.80" y2="122.02" stroke="#4a4a4a" stroke-width="0.75" />
<line x1="27.40" y1="99.99" x2="23.30" y2="99.99" stroke="#4a4a4a" stroke-width="0.75" />
<line x1="27.80" y1="117.00" x2="23.30" y2="117.00" stroke="#4a4a4a" stroke-width="0.75" />
<line x1="23.30" y1="99.62" x2="23.30" y2="117.38" stroke="#4a4a4a" stroke-width="0.75" />
<line x1="41.00" y1="127.83" x2="29.50" y2="127.83" stroke="#4a4a4a" stroke-width="0.75" />
<line x1="41.00" y1="134.01" x2="29.50" y2="134.01" stroke="#4a4a4a" stroke-width="0.75" />
<line x1="29.50" y1="127.45" x2="29.50" y2="134.38" stroke="#4a4a4a" stroke-width="0.75" />
<line x1="29.50" y1="130.92" x2="27.40" y2="130.92" stroke="#4a4a4a" stroke-width="0.75" />
<line x1="41.00" y1="140.19" x2="27.40" y2="140.19" stroke="#4a4a4a" stroke-width="0.75" />
<line x1="27.40" y1="130.54" x2="27.40" y2="140.57" stroke="#4a4a4a" stroke-width="0.75" />
<line x1="41.00" y1="146.38" x2="30.30" y2="146.38" stroke="#4a4a4a" stroke-width="0.75" />
<line x1="41.00" y1="152.56" x2="30.30" y2="152.56" stroke="#4a4a4a" stroke-width="0.75" />
<line x1="30.30" y1="146.00" x2="30.30" y2="152.94" stroke="#4a4a4a" stroke-width="0.75" />
<line x1="41.00" y1="158.75" x2="29.50" y2="158.75" stroke="#4a4a4a" stroke-width="0.75" />
<line x1="41.00" y1="164.94" x2="29.50" y2="164.94" stroke="#4a4a4a" stroke-width="0.75" />
<line x1="29.50" y1="158.38" x2="29.50" y2="165.31" stroke="#4a4a4a" stroke-width="0.75" />
<line x1="41.00" y1="177.31" x2="32.40" y2="177.31" stroke="#4a4a4a" stroke-width="0.75" />
<line x1="41.00" y1="183.49" x2="32.40" y2="183.49" stroke="#4a4a4a" stroke-width="0.75" />
<line x1="32.40" y1="176.93" x2="32.40" y2="183.87" stroke="#4a4a4a" stroke-width="0.75" />
<line x1="32.40" y1="180.40" x2="27.00" y2="180.40" stroke="#4a4a4a" stroke-width="0.75" />
<line x1="41.00" y1="189.68" x2="27.00" y2="189.68" stroke="#4a4a4a" stroke-width="0.75" />
<line x1="27.00" y1="180.02" x2="27.00" y2="190.05" stroke="#4a4a4a" stroke-width="0.75" />
<line x1="41.00" y1="171.12" x2="25.20" y2="171.12" stroke="#4a4a4a" stroke-width="0.75" />
<line x1="27.00" y1="185.04" x2="25.20" y2="185.04" stroke="#4a4a4a" stroke-width="0.75" />
<line x1="25.20" y1="170.75" x2="25.20" y2="185.41" stroke="#4a4a4a" stroke-width="0.75" />
<line x1="29.50" y1="161.84" x2="24.10" y2="161.84" stroke="#4a4a4a" stroke-width="0.75" />
<line x1="25.20" y1="178.08" x2="24.10" y2="178.08" stroke="#4a4a4a" stroke-width="0.75" />
<line x1="24.10" y1="161.47" x2="24.10" y2="178.45" stroke="#4a4a4a" stroke-width="0.75" />
<line x1="30.30" y1="149.47" x2="22.50" y2="149.47" stroke="#4a4a4a" stroke-width="0.75" />
<line x1="24.10" y1="169.96" x2="22.50" y2="169.96" stroke="#4a4a4a" stroke-width="0.75" />
<line x1="22.50" y1="149.10" x2="22.50" y2="170.34" stroke="#4a4a4a" stroke-width="0.75" />
<line x1="27.40" y1="135.56" x2="20.70" y2="135.56" stroke="#4a4a4a" stroke-width="0.75" />
<line x1="22.50" y1="159.72" x2="20.70" y2="159.72" stroke="#4a4a4a" stroke-width="0.75" />
<line x1="20.70" y1="135.18" x2="20.70" y2="160.09" stroke="#4a4a4a" stroke-width="0.75" />
<line x1="23.30" y1="108.50" x2="19.20" y2="108.50" stroke="#4a4a4a" stroke-width="0.75" />
<line x1="20.70" y1="147.64" x2="19.20" y2="147.64" stroke="#4a4a4a" stroke-width="0.75" />
<line x1="19.20" y1="108.12" x2="19.20" y2="148.01" stroke="#4a4a4a" stroke-width="0.75" />
<line x1="41.00" y1="195.86" x2="31.60" y2="195.86" stroke="#4a4a4a" stroke-width="0.75" />
<line x1="41.00" y1="202.05" x2="31.60" y2="202.05" stroke="#4a4a4a" stroke-width="0.75" />
<line x1="31.60" y1="195.49" x2="31.60" y2="202.42" stroke="#4a4a4a" stroke-width="0.75" />
<line x1="31.60" y1="198.95" x2="25.60" y2="198.95" stroke="#4a4a4a" stroke-width="0.75" />
<line x1="41.00" y1="208.23" x2="25.60" y2="208.23" stroke="#4a4a4a" stroke-width="0.75" />
<line x1="25.60" y1="198.58" x2="25.60" y2="208.61" stroke="#4a4a4a" stroke-width="0.75" />
<line x1="25.60" y1="203.59" x2="24.90" y2="203.59" stroke="#4a4a4a" stroke-width="0.75" />
<line x1="41.00" y1="214.41" x2="24.90" y2="214.41" stroke="#4a4a4a" stroke-width="0.75" />
<line x1="24.90" y1="203.22" x2="24.90" y2="214.79" stroke="#4a4a4a" stroke-width="0.75" />
<line x1="41.00" y1="220.60" x2="27.40" y2="220.60" stroke="#4a4a4a" stroke-width="0.75" />
<line x1="41.00" y1="226.78" x2="27.40" y2="226.78" stroke="#4a4a4a" stroke-width="0.75" />
<line x1="27.40" y1="220.22" x2="27.40" y2="227.16" stroke="#4a4a4a" stroke-width="0.75" />
<line x1="27.40" y1="223.69" x2="25.20" y2="223.69" stroke="#4a4a4a" stroke-width="0.75" />
<line x1="41.00" y1="232.97" x2="25.20" y2="232.97" stroke="#4a4a4a" stroke-width="0.75" />
<line x1="25.20" y1="223.32" x2="25.20" y2="233.34" stroke="#4a4a4a" stroke-width="0.75" />
<line x1="24.90" y1="209.00" x2="22.80" y2="209.00" stroke="#4a4a4a" stroke-width="0.75" />
<line x1="25.20" y1="228.33" x2="22.80" y2="228.33" stroke="#4a4a4a" stroke-width="0.75" />
<line x1="22.80" y1="208.63" x2="22.80" y2="228.71" stroke="#4a4a4a" stroke-width="0.75" />
<line x1="41.00" y1="239.16" x2="30.30" y2="239.16" stroke="#4a4a4a" stroke-width="0.75" />
<line x1="41.00" y1="245.34" x2="30.30" y2="245.34" stroke="#4a4a4a" stroke-width="0.75" />
<line x1="30.30" y1="238.78" x2="30.30" y2="245.72" stroke="#4a4a4a" stroke-width="0.75" />
<line x1="30.30" y1="242.25" x2="25.20" y2="242.25" stroke="#4a4a4a" stroke-width="0.75" />
<line x1="41.00" y1="251.53" x2="25.20" y2="251.53" stroke="#4a4a4a" stroke-width="0.75" />
<line x1="25.20" y1="241.87" x2="25.20" y2="251.90" stroke="#4a4a4a" stroke-width="0.75" />
<line x1="22.80" y1="218.67" x2="20.40" y2="218.67" stroke="#4a4a4a" stroke-width="0.75" />
<line x1="25.20" y1="246.89" x2="20.40" y2="246.89" stroke="#4a4a4a" stroke-width="0.75" />
<line x1="20.40" y1="218.29" x2="20.40" y2="247.26" stroke="#4a4a4a" stroke-width="0.75" />
<line x1="41.00" y1="276.26" x2="35.50" y2="276.26" stroke="#4a4a4a" stroke-width="0.75" />
<line x1="41.00" y1="282.45" x2="35.50" y2="282.45" stroke="#4a4a4a" stroke-width="0.75" />
<line x1="35.50" y1="275.89" x2="35.50" y2="282.82" stroke="#4a4a4a" stroke-width="0.75" />
<line x1="41.00" y1="270.08" x2="29.30" y2="270.08" stroke="#4a4a4a" stroke-width="0.75" />
<line x1="35.50" y1="279.36" x2="29.30" y2="279.36" stroke="#4a4a4a" stroke-width="0.75" />
<line x1="29.30" y1="269.70" x2="29.30" y2="279.73" stroke="#4a4a4a" stroke-width="0.75" />
<line x1="41.00" y1="263.89" x2="26.60" y2="263.89" stroke="#4a4a4a" stroke-width="0.75" />
<line x1="29.30" y1="274.72" x2="26.60" y2="274.72" stroke="#4a4a4a" stroke-width="0.75" />
<line x1="26.60" y1="263.52" x2="26.60" y2="275.09" stroke="#4a4a4a" stroke-width="0.75" />
<line x1="41.00" y1="257.71" x2="24.30" y2="257.71" stroke="#4a4a4a" stroke-width="0.75" />
<line x1="26.60" y1="269.31" x2="24.30" y2="269.31" stroke="#4a4a4a" stroke-width="0.75" />
<line x1="24.30" y1="257.34" x2="24.30" y2="269.68" stroke="#4a4a4a" stroke-width="0.75" />
<line x1="41.00" y1="288.63" x2="30.00" y2="288.63" stroke="#4a4a4a" stroke-width="0.75" />
<line x1="41.00" y1="294.82" x2="30.00" y2="294.82" stroke="#4a4a4a" stroke-width="0.75" />
<line x1="30.00" y1="288.26" x2="30.00" y2="295.19" stroke="#4a4a4a" stroke-width="0.75" />
<line x1="30.00" y1="291.73" x2="24.30" y2="291.73" stroke="#4a4a4a" stroke-width="0.75" />
<line x1="41.00" y1="301.00" x2="24.30" y2="301.00" stroke="#4a4a4a" stroke-width="0.75" />
<line x1="24.30" y1="291.35" x2="24.30" y2="301.38" stroke="#4a4a4a" stroke-width="0.75" />
<line x1="24.30" y1="263.51" x2="19.70" y2="263.51" stroke="#4a4a4a" stroke-width="0.75" />
<line x1="24.30" y1="296.37" x2="19.70" y2="296.37" stroke="#4a4a4a" stroke-width="0.75" />
<line x1="19.70" y1="263.13" x2="19.70" y2="296.74" stroke="#4a4a4a" stroke-width="0.75" />
<line x1="20.40" y1="232.78" x2="18.80" y2="232.78" stroke="#4a4a4a" stroke-width="0.75" />
<line x1="19.70" y1="279.94" x2="18.80" y2="279.94" stroke="#4a4a4a" stroke-width="0.75" />
<line x1="18.80" y1="232.40" x2="18.80" y2="280.31" stroke="#4a4a4a" stroke-width="0.75" />
<line x1="19.20" y1="128.07" x2="18.20" y2="128.07" stroke="#4a4a4a" stroke-width="0.75" />
<line x1="18.80" y1="256.36" x2="18.20" y2="256.36" stroke="#4a4a4a" stroke-width="0.75" />
<line x1="18.20" y1="127.69" x2="18.20" y2="256.73" stroke="#4a4a4a" stroke-width="0.75" />
<text x="37.80" y="326.60" font-size="5.05" fill="#000" stroke="#000" stroke-width="0.08" >Mutations:</text>
<rect x="65.00" y="321.50" width="3.30" height="6.60" fill="#000" />
<text x="70.50" y="326.60" font-size="5.05" fill="#000" stroke="#000" stroke-width="0.08" >non-syn.</text>
<rect x="93.4" y="321.7" width="2.9" height="6.2" fill="#fff" stroke="#333" stroke-width="0.5"/>
<text x="98.30" y="326.60" font-size="5.05" fill="#000" stroke="#000" stroke-width="0.08" >No</text>
<text x="113.80" y="326.60" font-size="5.05" fill="#000" stroke="#000" stroke-width="0.08" >SCNAs:</text>
<rect x="135.70" y="321.50" width="3.30" height="6.60" fill="#c4231b" />
<text x="140.60" y="326.60" font-size="5.05" fill="#000" stroke="#000" stroke-width="0.08" >High-level gain</text>
<rect x="180.00" y="321.50" width="3.30" height="6.60" fill="#ecbcc8" />
<text x="185.00" y="326.60" font-size="5.05" fill="#000" stroke="#000" stroke-width="0.08" >Low-level gain</text>
<text x="51.70" y="336.40" font-size="5.05" fill="#000" stroke="#000" stroke-width="0.08" >SVs:</text>
<rect x="65.00" y="331.30" width="3.30" height="6.60" fill="#3a9a40" />
<text x="70.30" y="336.40" font-size="5.05" fill="#000" stroke="#000" stroke-width="0.08" >Yes</text>
<rect x="82.7" y="331.5" width="2.9" height="6.2" fill="#fff" stroke="#333" stroke-width="0.5"/>
<text x="87.30" y="336.40" font-size="5.05" fill="#000" stroke="#000" stroke-width="0.08" >No</text>
<rect x="135.70" y="331.30" width="3.30" height="6.60" fill="#3a4ea2" />
<text x="140.60" y="336.40" font-size="5.05" fill="#000" stroke="#000" stroke-width="0.08" >High-level loss</text>
<rect x="180.00" y="331.30" width="3.30" height="6.60" fill="#add8e6" />
<text x="185.00" y="336.40" font-size="5.05" fill="#000" stroke="#000" stroke-width="0.08" >Low-level loss</text>
<rect x="222.7" y="331.5" width="2.9" height="6.2" fill="#fff" stroke="#333" stroke-width="0.5"/>
<text x="227.50" y="336.40" font-size="5.05" fill="#000" stroke="#000" stroke-width="0.08" >No</text>
<rect x="341.40" y="95.90" width="37.20" height="209.37" fill="#fff" />
<rect x="366.00" y="101.81" width="6.60" height="6.66" fill="#000000" />
<rect x="359.80" y="107.97" width="6.60" height="6.66" fill="#000000" />
<rect x="372.20" y="107.97" width="6.60" height="6.66" fill="#000000" />
<rect x="366.00" y="114.12" width="12.80" height="6.66" fill="#000000" />
<rect x="366.00" y="120.28" width="6.60" height="6.66" fill="#3a4ea2" />
<rect x="372.20" y="120.28" width="6.60" height="6.66" fill="#add8e6" />
<rect x="359.80" y="126.44" width="12.80" height="6.66" fill="#000000" />
<rect x="347.40" y="132.60" width="6.60" height="6.66" fill="#000000" />
<rect x="359.80" y="132.60" width="12.80" height="6.66" fill="#000000" />
<rect x="372.20" y="144.91" width="6.60" height="6.66" fill="#000000" />
<rect x="341.20" y="151.07" width="6.60" height="6.66" fill="#c4231b" />
<rect x="359.80" y="151.07" width="6.60" height="6.66" fill="#c4231b" />
<rect x="347.40" y="151.07" width="6.60" height="6.66" fill="#ecbcc8" />
<rect x="372.20" y="151.07" width="6.60" height="6.66" fill="#ecbcc8" />
<rect x="347.40" y="157.23" width="6.60" height="6.66" fill="#ecbcc8" />
<rect x="372.20" y="157.23" width="6.60" height="6.66" fill="#c4231b" />
<rect x="347.40" y="163.39" width="19.00" height="6.66" fill="#add8e6" />
<rect x="347.40" y="169.55" width="12.80" height="6.66" fill="#3a4ea2" />
<rect x="366.00" y="169.55" width="6.60" height="6.66" fill="#3a4ea2" />
<rect x="353.60" y="175.70" width="6.60" height="6.66" fill="#c4231b" />
<rect x="341.20" y="181.86" width="6.60" height="6.66" fill="#c4231b" />
<rect x="347.40" y="181.86" width="19.00" height="6.66" fill="#ecbcc8" />
<rect x="372.20" y="181.86" width="6.60" height="6.66" fill="#ecbcc8" />
<rect x="359.80" y="194.18" width="19.00" height="6.66" fill="#000000" />
<rect x="359.80" y="200.34" width="19.00" height="6.66" fill="#000000" />
<rect x="359.80" y="206.49" width="19.00" height="6.66" fill="#000000" />
<rect x="366.00" y="212.65" width="6.60" height="6.66" fill="#000000" />
<rect x="372.20" y="218.81" width="6.60" height="6.66" fill="#000000" />
<rect x="366.00" y="231.13" width="6.60" height="6.66" fill="#000000" />
<rect x="341.20" y="237.28" width="6.60" height="6.66" fill="#c4231b" />
<rect x="372.20" y="237.28" width="6.60" height="6.66" fill="#c4231b" />
<rect x="347.40" y="237.28" width="6.60" height="6.66" fill="#ecbcc8" />
<rect x="359.80" y="237.28" width="12.80" height="6.66" fill="#ecbcc8" />
<rect x="372.20" y="249.60" width="6.60" height="6.66" fill="#3a9a40" />
<rect x="359.80" y="255.76" width="6.60" height="6.66" fill="#000000" />
<rect x="372.20" y="255.76" width="6.60" height="6.66" fill="#000000" />
<rect x="359.80" y="261.92" width="12.80" height="6.66" fill="#000000" />
<rect x="359.80" y="268.07" width="6.60" height="6.66" fill="#add8e6" />
<rect x="347.40" y="280.39" width="6.60" height="6.66" fill="#3a9a40" />
<rect x="359.80" y="286.55" width="12.80" height="6.66" fill="#000000" />
<rect x="341.20" y="292.71" width="25.20" height="6.66" fill="#ecbcc8" />
<rect x="366.00" y="292.71" width="6.60" height="6.66" fill="#c4231b" />
<rect x="366.00" y="298.86" width="12.80" height="6.66" fill="#add8e6" />
<rect x="341.40" y="95.90" width="37.20" height="209.37" fill="none" stroke="#555" stroke-width="0.8"/>
<text x="382.00" y="101.05" font-size="5.3" fill="#1a1a1a" stroke="#1a1a1a" stroke-width="0.08" font-style="italic" >EEF1A1</text>
<text x="382.00" y="107.21" font-size="5.3" fill="#1a1a1a" stroke="#1a1a1a" stroke-width="0.08" font-style="italic" >RBM38</text>
<text x="382.00" y="113.37" font-size="5.3" fill="#1a1a1a" stroke="#1a1a1a" stroke-width="0.08" font-style="italic" >NFKBIA</text>
<text x="382.00" y="119.52" font-size="5.3" fill="#1a1a1a" stroke="#1a1a1a" stroke-width="0.08" font-style="italic" >ACTB</text>
<text x="382.00" y="125.68" font-size="5.3" fill="#3b55a5" stroke="#3b55a5" stroke-width="0.08" font-style="italic" >1p36.32</text>
<text x="382.00" y="131.84" font-size="5.3" fill="#1a1a1a" stroke="#1a1a1a" stroke-width="0.08" font-style="italic" >GNA13</text>
<text x="382.00" y="138.00" font-size="5.3" fill="#1a1a1a" stroke="#1a1a1a" stroke-width="0.08" font-style="italic" >CSF2RB</text>
<text x="382.00" y="144.16" font-size="5.3" fill="#1a1a1a" stroke="#1a1a1a" stroke-width="0.08" font-style="italic" >ARID1A</text>
<text x="382.00" y="150.31" font-size="5.3" fill="#1a1a1a" stroke="#1a1a1a" stroke-width="0.08" font-style="italic" >NFKBIE</text>
<text x="382.00" y="156.47" font-size="5.3" fill="#c1272d" stroke="#c1272d" stroke-width="0.08" font-style="italic" >2p/ XPO1</text>
<text x="382.00" y="162.63" font-size="5.3" fill="#c1272d" stroke="#c1272d" stroke-width="0.08" font-style="italic" >2p15/ XPO1</text>
<text x="382.00" y="168.79" font-size="5.3" fill="#3b55a5" stroke="#3b55a5" stroke-width="0.08" font-style="italic" >6q/ TNFAIP3</text>
<text x="382.00" y="174.95" font-size="5.3" fill="#3b55a5" stroke="#3b55a5" stroke-width="0.08" font-style="italic" >6p21.32/HLA-B / NFKBIE</text>
<text x="382.00" y="181.10" font-size="5.3" fill="#c1272d" stroke="#c1272d" stroke-width="0.08" font-style="italic" >5p15.33</text>
<text x="382.00" y="187.26" font-size="6.3" fill="#c1272d" stroke="#c1272d" stroke-width="0.08" font-style="italic" >5p</text>
<text x="382.00" y="193.42" font-size="6.3" fill="#c1272d" stroke="#c1272d" stroke-width="0.08" font-style="italic" >5q</text>
<text x="382.00" y="199.58" font-size="5.3" fill="#1a1a1a" stroke="#1a1a1a" stroke-width="0.08" font-style="italic" >TNFAIP3</text>
<text x="382.00" y="205.74" font-size="5.3" fill="#1a1a1a" stroke="#1a1a1a" stroke-width="0.08" font-style="italic" >STAT6</text>
<text x="382.00" y="211.89" font-size="5.3" fill="#1a1a1a" stroke="#1a1a1a" stroke-width="0.08" font-style="italic" >SOCS1</text>
<text x="382.00" y="218.05" font-size="5.3" fill="#1a1a1a" stroke="#1a1a1a" stroke-width="0.08" font-style="italic" >ADGRG6</text>
<text x="382.00" y="224.21" font-size="5.3" fill="#1a1a1a" stroke="#1a1a1a" stroke-width="0.08" font-style="italic" >B2M</text>
<text x="382.00" y="230.37" font-size="5.3" fill="#3b55a5" stroke="#3b55a5" stroke-width="0.08" font-style="italic" >1q41</text>
<text x="382.00" y="236.53" font-size="5.3" fill="#1a1a1a" stroke="#1a1a1a" stroke-width="0.08" font-style="italic" >DNAH12</text>
<text x="382.00" y="242.68" font-size="5.3" fill="#c1272d" stroke="#c1272d" stroke-width="0.08" font-style="italic" >9p24.1 /PD-Ligands / JAK2</text>
<text x="382.00" y="248.84" font-size="5.3" fill="#3b55a5" stroke="#3b55a5" stroke-width="0.08" font-style="italic" >6p12</text>
<text x="382.00" y="255.00" font-size="5.3" fill="#3a9a48" stroke="#3a9a48" stroke-width="0.08" font-style="italic" >ETV6</text>
<text x="382.00" y="261.16" font-size="5.3" fill="#1a1a1a" stroke="#1a1a1a" stroke-width="0.08" font-style="italic" >IGLL5</text>
<text x="382.00" y="267.32" font-size="5.3" fill="#1a1a1a" stroke="#1a1a1a" stroke-width="0.08" font-style="italic" >XPO1</text>
<text x="382.00" y="273.47" font-size="5.3" fill="#3b55a5" stroke="#3b55a5" stroke-width="0.08" font-style="italic" >6q23.3/ TNFAIP3</text>
<text x="382.00" y="279.63" font-size="5.3" fill="#1a1a1a" stroke="#1a1a1a" stroke-width="0.08" font-style="italic" >IKBKB</text>
<text x="382.00" y="285.79" font-size="5.3" fill="#3a9a48" stroke="#3a9a48" stroke-width="0.08" font-style="italic" >CIITA</text>
<text x="382.00" y="291.95" font-size="5.3" fill="#1a1a1a" stroke="#1a1a1a" stroke-width="0.08" font-style="italic" >HLA-B</text>
<text x="382.00" y="298.11" font-size="5.3" fill="#c1272d" stroke="#c1272d" stroke-width="0.08" font-style="italic" >9p /PD-Ligands / JAK2</text>
<text x="382.00" y="304.26" font-size="5.3" fill="#3b55a5" stroke="#3b55a5" stroke-width="0.08" font-style="italic" >16q22.2 / SOCS6</text>
<line x1="455.10" y1="99.28" x2="458.40" y2="99.28" stroke="#000" stroke-width="0.95" />
<line x1="455.10" y1="105.44" x2="458.40" y2="105.44" stroke="#000" stroke-width="0.95" />
<rect x="458.40" y="103.74" width="7.10" height="3.4" fill="#737373" stroke="#4d4d4d" stroke-width="0.5"/>
<line x1="455.10" y1="111.59" x2="458.40" y2="111.59" stroke="#000" stroke-width="0.95" />
<rect x="458.40" y="109.89" width="14.45" height="3.4" fill="#737373" stroke="#4d4d4d" stroke-width="0.5"/>
<line x1="455.10" y1="117.75" x2="458.40" y2="117.75" stroke="#000" stroke-width="0.95" />
<rect x="458.40" y="116.05" width="14.45" height="3.4" fill="#737373" stroke="#4d4d4d" stroke-width="0.5"/>
<line x1="455.10" y1="123.91" x2="458.40" y2="123.91" stroke="#000" stroke-width="0.95" />
<rect x="458.40" y="122.21" width="14.45" height="3.4" fill="#737373" stroke="#4d4d4d" stroke-width="0.5"/>
<line x1="455.10" y1="130.07" x2="458.40" y2="130.07" stroke="#000" stroke-width="0.95" />
<rect x="458.40" y="128.37" width="14.45" height="3.4" fill="#737373" stroke="#4d4d4d" stroke-width="0.5"/>
<line x1="455.10" y1="136.23" x2="458.40" y2="136.23" stroke="#000" stroke-width="0.95" />
<rect x="458.40" y="134.53" width="21.80" height="3.4" fill="#737373" stroke="#4d4d4d" stroke-width="0.5"/>
<line x1="455.10" y1="142.39" x2="458.40" y2="142.39" stroke="#000" stroke-width="0.95" />
<line x1="455.10" y1="148.54" x2="458.40" y2="148.54" stroke="#000" stroke-width="0.95" />
<rect x="458.40" y="146.84" width="7.10" height="3.4" fill="#737373" stroke="#4d4d4d" stroke-width="0.5"/>
<line x1="455.10" y1="154.70" x2="458.40" y2="154.70" stroke="#000" stroke-width="0.95" />
<rect x="458.40" y="153.00" width="29.15" height="3.4" fill="#737373" stroke="#4d4d4d" stroke-width="0.5"/>
<line x1="455.10" y1="160.86" x2="458.40" y2="160.86" stroke="#000" stroke-width="0.95" />
<rect x="458.40" y="159.16" width="14.45" height="3.4" fill="#737373" stroke="#4d4d4d" stroke-width="0.5"/>
<line x1="455.10" y1="167.02" x2="458.40" y2="167.02" stroke="#000" stroke-width="0.95" />
<rect x="458.40" y="165.32" width="21.80" height="3.4" fill="#737373" stroke="#4d4d4d" stroke-width="0.5"/>
<line x1="455.10" y1="173.18" x2="458.40" y2="173.18" stroke="#000" stroke-width="0.95" />
<rect x="458.40" y="171.47" width="21.80" height="3.4" fill="#737373" stroke="#4d4d4d" stroke-width="0.5"/>
<line x1="455.10" y1="179.33" x2="458.40" y2="179.33" stroke="#000" stroke-width="0.95" />
<rect x="458.40" y="177.63" width="7.10" height="3.4" fill="#737373" stroke="#4d4d4d" stroke-width="0.5"/>
<line x1="455.10" y1="185.49" x2="458.40" y2="185.49" stroke="#000" stroke-width="0.95" />
<rect x="458.40" y="183.79" width="36.50" height="3.4" fill="#737373" stroke="#4d4d4d" stroke-width="0.5"/>
<line x1="455.10" y1="191.65" x2="458.40" y2="191.65" stroke="#000" stroke-width="0.95" />
<line x1="455.10" y1="197.81" x2="458.40" y2="197.81" stroke="#000" stroke-width="0.95" />
<rect x="458.40" y="196.11" width="21.80" height="3.4" fill="#737373" stroke="#4d4d4d" stroke-width="0.5"/>
<line x1="455.10" y1="203.97" x2="458.40" y2="203.97" stroke="#000" stroke-width="0.95" />
<rect x="458.40" y="202.27" width="21.80" height="3.4" fill="#737373" stroke="#4d4d4d" stroke-width="0.5"/>
<line x1="455.10" y1="210.12" x2="458.40" y2="210.12" stroke="#000" stroke-width="0.95" />
<rect x="458.40" y="208.42" width="21.80" height="3.4" fill="#737373" stroke="#4d4d4d" stroke-width="0.5"/>
<line x1="455.10" y1="216.28" x2="458.40" y2="216.28" stroke="#000" stroke-width="0.95" />
<rect x="458.40" y="214.58" width="7.10" height="3.4" fill="#737373" stroke="#4d4d4d" stroke-width="0.5"/>
<line x1="455.10" y1="222.44" x2="458.40" y2="222.44" stroke="#000" stroke-width="0.95" />
<rect x="458.40" y="220.74" width="7.10" height="3.4" fill="#737373" stroke="#4d4d4d" stroke-width="0.5"/>
<line x1="455.10" y1="228.60" x2="458.40" y2="228.60" stroke="#000" stroke-width="0.95" />
<line x1="455.10" y1="234.76" x2="458.40" y2="234.76" stroke="#000" stroke-width="0.95" />
<rect x="458.40" y="233.06" width="7.10" height="3.4" fill="#737373" stroke="#4d4d4d" stroke-width="0.5"/>
<line x1="455.10" y1="240.91" x2="458.40" y2="240.91" stroke="#000" stroke-width="0.95" />
<rect x="458.40" y="239.21" width="36.50" height="3.4" fill="#737373" stroke="#4d4d4d" stroke-width="0.5"/>
<line x1="455.10" y1="247.07" x2="458.40" y2="247.07" stroke="#000" stroke-width="0.95" />
<line x1="455.10" y1="253.23" x2="458.40" y2="253.23" stroke="#000" stroke-width="0.95" />
<rect x="458.40" y="251.53" width="7.10" height="3.4" fill="#737373" stroke="#4d4d4d" stroke-width="0.5"/>
<line x1="455.10" y1="259.39" x2="458.40" y2="259.39" stroke="#000" stroke-width="0.95" />
<rect x="458.40" y="257.69" width="14.45" height="3.4" fill="#737373" stroke="#4d4d4d" stroke-width="0.5"/>
<line x1="455.10" y1="265.55" x2="458.40" y2="265.55" stroke="#000" stroke-width="0.95" />
<rect x="458.40" y="263.85" width="14.45" height="3.4" fill="#737373" stroke="#4d4d4d" stroke-width="0.5"/>
<line x1="455.10" y1="271.70" x2="458.40" y2="271.70" stroke="#000" stroke-width="0.95" />
<rect x="458.40" y="270.00" width="7.10" height="3.4" fill="#737373" stroke="#4d4d4d" stroke-width="0.5"/>
<line x1="455.10" y1="277.86" x2="458.40" y2="277.86" stroke="#000" stroke-width="0.95" />
<line x1="455.10" y1="284.02" x2="458.40" y2="284.02" stroke="#000" stroke-width="0.95" />
<rect x="458.40" y="282.32" width="7.10" height="3.4" fill="#737373" stroke="#4d4d4d" stroke-width="0.5"/>
<line x1="455.10" y1="290.18" x2="458.40" y2="290.18" stroke="#000" stroke-width="0.95" />
<rect x="458.40" y="288.48" width="14.45" height="3.4" fill="#737373" stroke="#4d4d4d" stroke-width="0.5"/>
<line x1="455.10" y1="296.34" x2="458.40" y2="296.34" stroke="#000" stroke-width="0.95" />
<rect x="458.40" y="294.64" width="36.50" height="3.4" fill="#737373" stroke="#4d4d4d" stroke-width="0.5"/>
<line x1="455.10" y1="302.49" x2="458.40" y2="302.49" stroke="#000" stroke-width="0.95" />
<rect x="458.40" y="300.79" width="14.45" height="3.4" fill="#737373" stroke="#4d4d4d" stroke-width="0.5"/>
<line x1="458.40" y1="94.90" x2="458.40" y2="306.70" stroke="#111" stroke-width="1.1" />
<line x1="457.90" y1="306.50" x2="510.40" y2="306.50" stroke="#111" stroke-width="1.0" />
<line x1="458.40" y1="306.50" x2="458.40" y2="309.00" stroke="#111" stroke-width="0.8" />
<line x1="468.28" y1="306.50" x2="468.28" y2="309.00" stroke="#111" stroke-width="0.8" />
<line x1="478.16" y1="306.50" x2="478.16" y2="309.00" stroke="#111" stroke-width="0.8" />
<line x1="488.04" y1="306.50" x2="488.04" y2="309.00" stroke="#111" stroke-width="0.8" />
<line x1="497.92" y1="306.50" x2="497.92" y2="309.00" stroke="#111" stroke-width="0.8" />
<line x1="507.80" y1="306.50" x2="507.80" y2="309.00" stroke="#111" stroke-width="0.8" />
<text x="458.10" y="317.60" font-size="5.8" fill="#111" stroke="#111" stroke-width="0.08" text-anchor="middle" >0</text>
<text x="507.80" y="317.60" font-size="5.8" fill="#111" stroke="#111" stroke-width="0.08" text-anchor="middle" >100</text>
<text x="484.60" y="330.40" font-size="9" fill="#222" stroke="#222" stroke-width="0.08" text-anchor="middle" font-weight="bold" textLength="6.3" lengthAdjust="spacingAndGlyphs">%</text>
<rect x="341.80" y="80.80" width="36.40" height="5.00" fill="#7d1a80" />
<rect x="347.60" y="80.80" width="6.20" height="5.00" fill="#1c9c78" />
<rect x="360.00" y="80.80" width="6.20" height="5.00" fill="#1c9c78" />
<rect x="341.80" y="87.70" width="36.40" height="5.00" fill="#2277c2" />
<text x="346.60" y="78.80" font-size="5.8" fill="#111" stroke="#111" stroke-width="0.08" transform="rotate(-90 346.60 78.80)" >HDLM-2</text>
<text x="352.80" y="78.80" font-size="5.8" fill="#111" stroke="#111" stroke-width="0.08" transform="rotate(-90 352.80 78.80)" >KM-H2</text>
<text x="359.00" y="78.80" font-size="5.8" fill="#111" stroke="#111" stroke-width="0.08" transform="rotate(-90 359.00 78.80)" >L-540</text>
<text x="365.20" y="78.80" font-size="5.8" fill="#111" stroke="#111" stroke-width="0.08" transform="rotate(-90 365.20 78.80)" >L-1236</text>
<text x="371.40" y="78.80" font-size="5.8" fill="#111" stroke="#111" stroke-width="0.08" transform="rotate(-90 371.40 78.80)" >SUP-HDI</text>
<text x="377.60" y="78.80" font-size="5.8" fill="#111" stroke="#111" stroke-width="0.08" transform="rotate(-90 377.60 78.80)" >L-428</text>
<text x="360.00" y="32.00" font-size="8.2" fill="#111" stroke="#111" text-anchor="middle" stroke-width="0.22">Cell lines</text>
<text x="331.00" y="17.00" font-size="11.5" fill="#000" stroke="#000" stroke-width="0.08" font-weight="bold" >B</text>
<line x1="350.68" y1="54.20" x2="350.68" y2="43.50" stroke="#222" stroke-width="0.8" />
<line x1="356.86" y1="54.20" x2="356.86" y2="43.50" stroke="#222" stroke-width="0.8" />
<line x1="350.28" y1="43.50" x2="357.26" y2="43.50" stroke="#222" stroke-width="0.8" />
<line x1="344.50" y1="54.20" x2="344.50" y2="41.50" stroke="#222" stroke-width="0.8" />
<line x1="353.77" y1="43.50" x2="353.77" y2="41.50" stroke="#222" stroke-width="0.8" />
<line x1="344.10" y1="41.50" x2="354.17" y2="41.50" stroke="#222" stroke-width="0.8" />
<line x1="363.04" y1="54.20" x2="363.04" y2="44.00" stroke="#222" stroke-width="0.8" />
<line x1="369.22" y1="54.20" x2="369.22" y2="44.00" stroke="#222" stroke-width="0.8" />
<line x1="362.64" y1="44.00" x2="369.62" y2="44.00" stroke="#222" stroke-width="0.8" />
<line x1="349.13" y1="41.50" x2="349.13" y2="38.30" stroke="#222" stroke-width="0.8" />
<line x1="366.13" y1="44.00" x2="366.13" y2="38.30" stroke="#222" stroke-width="0.8" />
<line x1="348.74" y1="38.30" x2="366.53" y2="38.30" stroke="#222" stroke-width="0.8" />
<line x1="357.63" y1="38.30" x2="357.63" y2="37.10" stroke="#222" stroke-width="0.8" />
<line x1="375.40" y1="54.20" x2="375.40" y2="37.10" stroke="#222" stroke-width="0.8" />
<line x1="357.23" y1="37.10" x2="375.80" y2="37.10" stroke="#222" stroke-width="0.8" />
<text x="7.30" y="362.80" font-size="11.6" fill="#000" stroke="#000" stroke-width="0.08" font-weight="bold" >C</text>
<line x1="45.60" y1="370.60" x2="45.60" y2="446.10" stroke="#111" stroke-width="1.1" />
<line x1="45.10" y1="445.60" x2="196.00" y2="445.60" stroke="#111" stroke-width="1.1" />
<line x1="42.00" y1="445.60" x2="45.60" y2="445.60" stroke="#111" stroke-width="0.9" />
<text x="39.60" y="447.95" font-size="6.7" fill="#111" stroke="#111" stroke-width="0.08" text-anchor="end" >0</text>
<line x1="42.00" y1="427.43" x2="45.60" y2="427.43" stroke="#111" stroke-width="0.9" />
<text x="39.60" y="429.78" font-size="6.7" fill="#111" stroke="#111" stroke-width="0.08" text-anchor="end" >5</text>
<line x1="42.00" y1="409.25" x2="45.60" y2="409.25" stroke="#111" stroke-width="0.9" />
<text x="39.60" y="411.60" font-size="6.7" fill="#111" stroke="#111" stroke-width="0.08" text-anchor="end" >10</text>
<line x1="42.00" y1="391.08" x2="45.60" y2="391.08" stroke="#111" stroke-width="0.9" />
<text x="39.60" y="393.43" font-size="6.7" fill="#111" stroke="#111" stroke-width="0.08" text-anchor="end" >15</text>
<line x1="42.00" y1="372.90" x2="45.60" y2="372.90" stroke="#111" stroke-width="0.9" />
<text x="39.60" y="375.25" font-size="6.7" fill="#111" stroke="#111" stroke-width="0.08" text-anchor="end" >20</text>
<text transform="translate(25.6 407.8) rotate(-90)" font-size="9.3" font-weight="bold" text-anchor="middle" fill="#222" textLength="70.6" lengthAdjust="spacingAndGlyphs">Number of driver events</text>
<line x1="61.30" y1="431.24" x2="61.30" y2="401.43" stroke="#111" stroke-width="0.8" />
<line x1="57.70" y1="431.24" x2="64.90" y2="431.24" stroke="#111" stroke-width="0.9" />
<line x1="57.70" y1="401.43" x2="64.90" y2="401.43" stroke="#111" stroke-width="0.9" />
<line x1="53.70" y1="416.37" x2="68.90" y2="416.37" stroke="#111" stroke-width="1.0" />
<circle cx="61.30" cy="398.35" r="1.45" fill="#000"/>
<circle cx="61.30" cy="401.98" r="1.45" fill="#000"/>
<circle cx="58.80" cy="409.25" r="1.45" fill="#c8321c"/>
<circle cx="63.80" cy="409.25" r="1.45" fill="#000"/>
<circle cx="61.30" cy="412.89" r="1.45" fill="#c8321c"/>
<circle cx="61.30" cy="431.06" r="1.45" fill="#c8321c"/>
<circle cx="58.80" cy="434.70" r="1.45" fill="#000"/>
<circle cx="63.80" cy="434.70" r="1.45" fill="#c8321c"/>
<line x1="85.00" y1="413.43" x2="85.00" y2="393.62" stroke="#111" stroke-width="0.8" />
<line x1="81.40" y1="413.43" x2="88.60" y2="413.43" stroke="#111" stroke-width="0.9" />
<line x1="81.40" y1="393.62" x2="88.60" y2="393.62" stroke="#111" stroke-width="0.9" />
<line x1="77.40" y1="403.62" x2="92.60" y2="403.62" stroke="#111" stroke-width="1.0" />
<circle cx="85.00" cy="387.44" r="1.45" fill="#000"/>
<circle cx="81.65" cy="394.71" r="1.45" fill="#000"/>
<circle cx="85.00" cy="394.71" r="1.45" fill="#000"/>
<circle cx="88.35" cy="394.71" r="1.45" fill="#000"/>
<circle cx="78.50" cy="398.35" r="1.45" fill="#000"/>
<circle cx="85.00" cy="398.35" r="1.45" fill="#000"/>
<circle cx="91.50" cy="398.35" r="1.45" fill="#000"/>
<circle cx="78.40" cy="405.62" r="1.45" fill="#000"/>
<circle cx="81.70" cy="405.62" r="1.45" fill="#000"/>
<circle cx="85.00" cy="405.62" r="1.45" fill="#000"/>
<circle cx="88.30" cy="405.62" r="1.45" fill="#000"/>
<circle cx="91.60" cy="405.62" r="1.45" fill="#000"/>
<circle cx="85.00" cy="409.25" r="1.45" fill="#000"/>
<circle cx="85.00" cy="412.89" r="1.45" fill="#000"/>
<circle cx="85.00" cy="431.06" r="1.45" fill="#000"/>
<line x1="108.60" y1="434.70" x2="108.60" y2="409.07" stroke="#111" stroke-width="0.8" />
<line x1="105.00" y1="434.70" x2="112.20" y2="434.70" stroke="#111" stroke-width="0.9" />
<line x1="105.00" y1="409.07" x2="112.20" y2="409.07" stroke="#111" stroke-width="0.9" />
<line x1="101.00" y1="421.97" x2="116.20" y2="421.97" stroke="#111" stroke-width="1.0" />
<circle cx="108.60" cy="409.25" r="1.45" fill="#c8321c"/>
<circle cx="108.60" cy="412.89" r="1.45" fill="#c8321c"/>
<circle cx="108.60" cy="431.06" r="1.45" fill="#c8321c"/>
<circle cx="108.60" cy="434.70" r="1.45" fill="#c8321c"/>
<line x1="132.60" y1="416.16" x2="132.60" y2="393.62" stroke="#111" stroke-width="0.8" />
<line x1="129.00" y1="416.16" x2="136.20" y2="416.16" stroke="#111" stroke-width="0.9" />
<line x1="129.00" y1="393.62" x2="136.20" y2="393.62" stroke="#111" stroke-width="0.9" />
<line x1="125.00" y1="405.25" x2="140.20" y2="405.25" stroke="#111" stroke-width="1.0" />
<circle cx="132.60" cy="387.44" r="1.45" fill="#000"/>
<circle cx="129.25" cy="394.71" r="1.45" fill="#000"/>
<circle cx="132.60" cy="394.71" r="1.45" fill="#000"/>
<circle cx="135.95" cy="394.71" r="1.45" fill="#000"/>
<circle cx="126.10" cy="398.35" r="1.45" fill="#000"/>
<circle cx="130.80" cy="398.35" r="1.45" fill="#000"/>
<circle cx="134.50" cy="398.35" r="1.45" fill="#000"/>
<circle cx="139.10" cy="398.35" r="1.45" fill="#000"/>
<circle cx="132.60" cy="401.98" r="1.45" fill="#000"/>
<circle cx="126.00" cy="405.62" r="1.45" fill="#000"/>
<circle cx="129.30" cy="405.62" r="1.45" fill="#000"/>
<circle cx="132.60" cy="405.62" r="1.45" fill="#000"/>
<circle cx="135.90" cy="405.62" r="1.45" fill="#000"/>
<circle cx="139.20" cy="405.62" r="1.45" fill="#000"/>
<circle cx="130.10" cy="409.25" r="1.45" fill="#000"/>
<circle cx="135.10" cy="409.25" r="1.45" fill="#000"/>
<circle cx="132.60" cy="412.89" r="1.45" fill="#000"/>
<circle cx="132.60" cy="431.06" r="1.45" fill="#000"/>
<circle cx="132.60" cy="434.70" r="1.45" fill="#000"/>
<line x1="156.10" y1="424.70" x2="156.10" y2="397.62" stroke="#111" stroke-width="0.8" />
<line x1="152.50" y1="424.70" x2="159.70" y2="424.70" stroke="#111" stroke-width="0.9" />
<line x1="152.50" y1="397.62" x2="159.70" y2="397.62" stroke="#111" stroke-width="0.9" />
<line x1="148.50" y1="411.43" x2="163.70" y2="411.43" stroke="#111" stroke-width="1.0" />
<circle cx="156.10" cy="387.44" r="1.45" fill="#000"/>
<circle cx="153.60" cy="398.35" r="1.45" fill="#000"/>
<circle cx="158.60" cy="398.35" r="1.45" fill="#000"/>
<circle cx="156.10" cy="401.98" r="1.45" fill="#000"/>
<circle cx="149.50" cy="405.62" r="1.45" fill="#000"/>
<circle cx="152.80" cy="405.62" r="1.45" fill="#000"/>
<circle cx="156.10" cy="405.62" r="1.45" fill="#000"/>
<circle cx="159.40" cy="405.62" r="1.45" fill="#000"/>
<circle cx="162.70" cy="405.62" r="1.45" fill="#000"/>
<circle cx="153.60" cy="409.25" r="1.45" fill="#000"/>
<circle cx="158.60" cy="409.25" r="1.45" fill="#000"/>
<circle cx="153.60" cy="412.89" r="1.45" fill="#000"/>
<circle cx="158.60" cy="412.89" r="1.45" fill="#000"/>
<circle cx="153.60" cy="431.06" r="1.45" fill="#000"/>
<circle cx="158.60" cy="431.06" r="1.45" fill="#000"/>
<circle cx="153.60" cy="434.70" r="1.45" fill="#000"/>
<circle cx="158.60" cy="434.70" r="1.45" fill="#000"/>
<line x1="179.80" y1="404.89" x2="179.80" y2="393.98" stroke="#111" stroke-width="0.8" />
<line x1="176.20" y1="404.89" x2="183.40" y2="404.89" stroke="#111" stroke-width="0.9" />
<line x1="176.20" y1="393.98" x2="183.40" y2="393.98" stroke="#111" stroke-width="0.9" />
<line x1="172.20" y1="399.44" x2="187.40" y2="399.44" stroke="#111" stroke-width="1.0" />
<circle cx="177.30" cy="394.71" r="1.45" fill="#000"/>
<circle cx="182.30" cy="394.71" r="1.45" fill="#000"/>
<circle cx="177.30" cy="398.35" r="1.45" fill="#000"/>
<circle cx="182.30" cy="398.35" r="1.45" fill="#000"/>
<circle cx="179.80" cy="401.98" r="1.45" fill="#000"/>
<circle cx="179.80" cy="409.25" r="1.45" fill="#000"/>
<line x1="99.40" y1="369.90" x2="99.40" y2="445.60" stroke="#111" stroke-width="0.95" stroke-dasharray="3.3 1.6"/>
<line x1="146.00" y1="369.90" x2="146.00" y2="445.60" stroke="#111" stroke-width="0.95" stroke-dasharray="3.3 1.6"/>
<line x1="57.70" y1="378.00" x2="96.90" y2="378.00" stroke="#6e6e6e" stroke-width="1.5" />
<text x="77.30" y="373.60" font-size="5.45" fill="#444" stroke="#444" stroke-width="0.08" text-anchor="middle" >p= 0.011</text>
<line x1="102.30" y1="378.00" x2="142.10" y2="378.00" stroke="#6e6e6e" stroke-width="1.5" />
<text x="122.20" y="373.60" font-size="5.45" fill="#444" stroke="#444" stroke-width="0.08" text-anchor="middle" >p= 0.008</text>
<line x1="150.50" y1="378.00" x2="190.50" y2="378.00" stroke="#6e6e6e" stroke-width="1.5" />
<text x="170.50" y="373.60" font-size="5.45" fill="#444" stroke="#444" stroke-width="0.08" text-anchor="middle" >p= 0.012</text>
<line x1="61.30" y1="445.60" x2="61.30" y2="448.40" stroke="#111" stroke-width="0.9" />
<text x="63.40" y="452.30" font-size="6.2" fill="#111" text-anchor="end" transform="rotate(-90 63.40 452.30)">EBV<tspan font-size="4.2" dy="-2">+</tspan></text>
<line x1="85.00" y1="445.60" x2="85.00" y2="448.40" stroke="#111" stroke-width="0.9" />
<text x="87.10" y="452.30" font-size="6.2" fill="#111" text-anchor="end" transform="rotate(-90 87.10 452.30)">EBV<tspan font-size="4.2" dy="-2">−</tspan></text>
<line x1="108.60" y1="445.60" x2="108.60" y2="448.40" stroke="#111" stroke-width="0.9" />
<text x="110.70" y="452.30" font-size="6.2" fill="#111" stroke="#111" stroke-width="0.08" text-anchor="end" transform="rotate(-90 110.70 452.30)" >MC</text>
<line x1="132.60" y1="445.60" x2="132.60" y2="448.40" stroke="#111" stroke-width="0.9" />
<text x="134.70" y="452.30" font-size="6.2" fill="#111" stroke="#111" stroke-width="0.08" text-anchor="end" transform="rotate(-90 134.70 452.30)" >NSHL</text>
<line x1="156.10" y1="445.60" x2="156.10" y2="448.40" stroke="#111" stroke-width="0.9" />
<text x="158.20" y="452.30" font-size="6.2" fill="#111" stroke="#111" stroke-width="0.08" text-anchor="end" transform="rotate(-90 158.20 452.30)" >ARID1A WT</text>
<line x1="179.80" y1="445.60" x2="179.80" y2="448.40" stroke="#111" stroke-width="0.9" />
<text x="181.90" y="452.30" font-size="6.3" fill="#111" text-anchor="end" transform="rotate(-90 181.90 452.30)">ARID1A<tspan font-size="5.8"> mutant</tspan></text>
<circle cx="46.6" cy="491.5" r="1.3" fill="#c8321c"/>
<text x="51.50" y="493.60" font-size="6.2" fill="#111" stroke="#111" stroke-width="0.08" >MC classification</text>
<text x="241.00" y="362.90" font-size="11.6" fill="#000" stroke="#000" stroke-width="0.08" font-weight="bold" >D</text>
<rect x="286.90" y="369.20" width="6.17" height="5.60" fill="#f0a51e" />
<rect x="286.90" y="374.80" width="6.17" height="5.60" fill="#fff" />
<rect x="286.90" y="380.40" width="6.17" height="5.60" fill="#fff" />
<rect x="286.90" y="386.00" width="6.17" height="5.60" fill="#fff" />
<rect x="293.06" y="369.20" width="6.17" height="5.60" fill="#f0a51e" />
<rect x="293.06" y="374.80" width="6.17" height="5.60" fill="#fff" />
<rect x="293.06" y="380.40" width="6.17" height="5.60" fill="#fff" />
<rect x="293.06" y="386.00" width="6.17" height="5.60" fill="#fff" />
<rect x="299.23" y="369.20" width="6.17" height="5.60" fill="#f0a51e" />
<rect x="299.23" y="374.80" width="6.17" height="5.60" fill="#fff" />
<rect x="299.23" y="380.40" width="6.17" height="5.60" fill="#fff" />
<rect x="299.23" y="386.00" width="6.17" height="5.60" fill="#fff" />
<rect x="305.39" y="369.20" width="6.17" height="5.60" fill="#f0a51e" />
<rect x="305.39" y="374.80" width="6.17" height="5.60" fill="#fff" />
<rect x="305.39" y="380.40" width="6.17" height="5.60" fill="#fff" />
<rect x="305.39" y="386.00" width="6.17" height="5.60" fill="#fff" />
<rect x="311.56" y="369.20" width="6.17" height="5.60" fill="#f0a51e" />
<rect x="311.56" y="374.80" width="6.17" height="5.60" fill="#fff" />
<rect x="311.56" y="380.40" width="6.17" height="5.60" fill="#fff" />
<rect x="311.56" y="386.00" width="6.17" height="5.60" fill="#fff" />
<rect x="317.72" y="369.20" width="6.17" height="5.60" fill="#f0a51e" />
<rect x="317.72" y="374.80" width="6.17" height="5.60" fill="#fff" />
<rect x="317.72" y="380.40" width="6.17" height="5.60" fill="#fff" />
<rect x="317.72" y="386.00" width="6.17" height="5.60" fill="#fff" />
<rect x="323.89" y="369.20" width="6.17" height="5.60" fill="#f0a51e" />
<rect x="323.89" y="374.80" width="6.17" height="5.60" fill="#111" />
<rect x="323.89" y="380.40" width="6.17" height="5.60" fill="#fff" />
<rect x="323.89" y="386.00" width="6.17" height="5.60" fill="#fff" />
<rect x="330.05" y="369.20" width="6.17" height="5.60" fill="#f0a51e" />
<rect x="330.05" y="374.80" width="6.17" height="5.60" fill="#fff" />
<rect x="330.05" y="380.40" width="6.17" height="5.60" fill="#fff" />
<rect x="330.05" y="386.00" width="6.17" height="5.60" fill="#fff" />
<rect x="336.22" y="369.20" width="6.17" height="5.60" fill="#2577c8" />
<rect x="336.22" y="374.80" width="6.17" height="5.60" fill="#111" />
<rect x="336.22" y="380.40" width="6.17" height="5.60" fill="#fff" />
<rect x="336.22" y="386.00" width="6.17" height="5.60" fill="#1f9a48" />
<rect x="342.38" y="369.20" width="6.17" height="5.60" fill="#2577c8" />
<rect x="342.38" y="374.80" width="6.17" height="5.60" fill="#fff" />
<rect x="342.38" y="380.40" width="6.17" height="5.60" fill="#fff" />
<rect x="342.38" y="386.00" width="6.17" height="5.60" fill="#fff" />
<rect x="348.55" y="369.20" width="6.17" height="5.60" fill="#2577c8" />
<rect x="348.55" y="374.80" width="6.17" height="5.60" fill="#111" />
<rect x="348.55" y="380.40" width="6.17" height="5.60" fill="#111" />
<rect x="348.55" y="386.00" width="6.17" height="5.60" fill="#fff" />
<rect x="354.71" y="369.20" width="6.17" height="5.60" fill="#2577c8" />
<rect x="354.71" y="374.80" width="6.17" height="5.60" fill="#fff" />
<rect x="354.71" y="380.40" width="6.17" height="5.60" fill="#111" />
<rect x="354.71" y="386.00" width="6.17" height="5.60" fill="#fff" />
<rect x="360.88" y="369.20" width="6.17" height="5.60" fill="#2577c8" />
<rect x="360.88" y="374.80" width="6.17" height="5.60" fill="#fff" />
<rect x="360.88" y="380.40" width="6.17" height="5.60" fill="#fff" />
<rect x="360.88" y="386.00" width="6.17" height="5.60" fill="#fff" />
<rect x="367.04" y="369.20" width="6.17" height="5.60" fill="#2577c8" />
<rect x="367.04" y="374.80" width="6.17" height="5.60" fill="#fff" />
<rect x="367.04" y="380.40" width="6.17" height="5.60" fill="#fff" />
<rect x="367.04" y="386.00" width="6.17" height="5.60" fill="#fff" />
<rect x="373.21" y="369.20" width="6.17" height="5.60" fill="#2577c8" />
<rect x="373.21" y="374.80" width="6.17" height="5.60" fill="#111" />
<rect x="373.21" y="380.40" width="6.17" height="5.60" fill="#fff" />
<rect x="373.21" y="386.00" width="6.17" height="5.60" fill="#fff" />
<rect x="379.38" y="369.20" width="6.17" height="5.60" fill="#2577c8" />
<rect x="379.38" y="374.80" width="6.17" height="5.60" fill="#111" />
<rect x="379.38" y="380.40" width="6.17" height="5.60" fill="#fff" />
<rect x="379.38" y="386.00" width="6.17" height="5.60" fill="#fff" />
<rect x="385.54" y="369.20" width="6.17" height="5.60" fill="#2577c8" />
<rect x="385.54" y="374.80" width="6.17" height="5.60" fill="#111" />
<rect x="385.54" y="380.40" width="6.17" height="5.60" fill="#fff" />
<rect x="385.54" y="386.00" width="6.17" height="5.60" fill="#fff" />
<rect x="391.70" y="369.20" width="6.17" height="5.60" fill="#2577c8" />
<rect x="391.70" y="374.80" width="6.17" height="5.60" fill="#fff" />
<rect x="391.70" y="380.40" width="6.17" height="5.60" fill="#fff" />
<rect x="391.70" y="386.00" width="6.17" height="5.60" fill="#fff" />
<rect x="397.87" y="369.20" width="6.17" height="5.60" fill="#2577c8" />
<rect x="397.87" y="374.80" width="6.17" height="5.60" fill="#111" />
<rect x="397.87" y="380.40" width="6.17" height="5.60" fill="#111" />
<rect x="397.87" y="386.00" width="6.17" height="5.60" fill="#1f9a48" />
<rect x="404.03" y="369.20" width="6.17" height="5.60" fill="#2577c8" />
<rect x="404.03" y="374.80" width="6.17" height="5.60" fill="#111" />
<rect x="404.03" y="380.40" width="6.17" height="5.60" fill="#fff" />
<rect x="404.03" y="386.00" width="6.17" height="5.60" fill="#fff" />
<rect x="410.20" y="369.20" width="6.17" height="5.60" fill="#2577c8" />
<rect x="410.20" y="374.80" width="6.17" height="5.60" fill="#111" />
<rect x="410.20" y="380.40" width="6.17" height="5.60" fill="#fff" />
<rect x="410.20" y="386.00" width="6.17" height="5.60" fill="#fff" />
<rect x="416.37" y="369.20" width="6.17" height="5.60" fill="#2577c8" />
<rect x="416.37" y="374.80" width="6.17" height="5.60" fill="#fff" />
<rect x="416.37" y="380.40" width="6.17" height="5.60" fill="#111" />
<rect x="416.37" y="386.00" width="6.17" height="5.60" fill="#fff" />
<rect x="422.53" y="369.20" width="6.17" height="5.60" fill="#2577c8" />
<rect x="422.53" y="374.80" width="6.17" height="5.60" fill="#fff" />
<rect x="422.53" y="380.40" width="6.17" height="5.60" fill="#fff" />
<rect x="422.53" y="386.00" width="6.17" height="5.60" fill="#fff" />
<line x1="286.90" y1="369.20" x2="286.90" y2="391.60" stroke="#222" stroke-width="0.7" />
<line x1="293.06" y1="369.20" x2="293.06" y2="391.60" stroke="#222" stroke-width="0.7" />
<line x1="299.23" y1="369.20" x2="299.23" y2="391.60" stroke="#222" stroke-width="0.7" />
<line x1="305.39" y1="369.20" x2="305.39" y2="391.60" stroke="#222" stroke-width="0.7" />
<line x1="311.56" y1="369.20" x2="311.56" y2="391.60" stroke="#222" stroke-width="0.7" />
<line x1="317.72" y1="369.20" x2="317.72" y2="391.60" stroke="#222" stroke-width="0.7" />
<line x1="323.89" y1="369.20" x2="323.89" y2="391.60" stroke="#222" stroke-width="0.7" />
<line x1="330.05" y1="369.20" x2="330.05" y2="391.60" stroke="#222" stroke-width="0.7" />
<line x1="336.22" y1="369.20" x2="336.22" y2="391.60" stroke="#222" stroke-width="0.7" />
<line x1="342.38" y1="369.20" x2="342.38" y2="391.60" stroke="#222" stroke-width="0.7" />
<line x1="348.55" y1="369.20" x2="348.55" y2="391.60" stroke="#222" stroke-width="0.7" />
<line x1="354.71" y1="369.20" x2="354.71" y2="391.60" stroke="#222" stroke-width="0.7" />
<line x1="360.88" y1="369.20" x2="360.88" y2="391.60" stroke="#222" stroke-width="0.7" />
<line x1="367.04" y1="369.20" x2="367.04" y2="391.60" stroke="#222" stroke-width="0.7" />
<line x1="373.21" y1="369.20" x2="373.21" y2="391.60" stroke="#222" stroke-width="0.7" />
<line x1="379.38" y1="369.20" x2="379.38" y2="391.60" stroke="#222" stroke-width="0.7" />
<line x1="385.54" y1="369.20" x2="385.54" y2="391.60" stroke="#222" stroke-width="0.7" />
<line x1="391.70" y1="369.20" x2="391.70" y2="391.60" stroke="#222" stroke-width="0.7" />
<line x1="397.87" y1="369.20" x2="397.87" y2="391.60" stroke="#222" stroke-width="0.7" />
<line x1="404.03" y1="369.20" x2="404.03" y2="391.60" stroke="#222" stroke-width="0.7" />
<line x1="410.20" y1="369.20" x2="410.20" y2="391.60" stroke="#222" stroke-width="0.7" />
<line x1="416.37" y1="369.20" x2="416.37" y2="391.60" stroke="#222" stroke-width="0.7" />
<line x1="422.53" y1="369.20" x2="422.53" y2="391.60" stroke="#222" stroke-width="0.7" />
<line x1="428.69" y1="369.20" x2="428.69" y2="391.60" stroke="#222" stroke-width="0.7" />
<line x1="286.55" y1="369.20" x2="429.04" y2="369.20" stroke="#222" stroke-width="0.7" />
<line x1="286.55" y1="374.80" x2="429.04" y2="374.80" stroke="#222" stroke-width="0.7" />
<line x1="286.55" y1="380.40" x2="429.04" y2="380.40" stroke="#222" stroke-width="0.7" />
<line x1="286.55" y1="386.00" x2="429.04" y2="386.00" stroke="#222" stroke-width="0.7" />
<line x1="286.55" y1="391.60" x2="429.04" y2="391.60" stroke="#222" stroke-width="0.7" />
<text x="430.60" y="373.90" font-size="5.2" fill="#111" stroke="#111" stroke-width="0.08" >EBV status</text>
<text x="430.6" y="379.6" font-size="5.2" fill="#111"><tspan font-style="italic">B2M</tspan> mutation</text>
<text x="430.6" y="385.4" font-size="5.2" fill="#111"><tspan font-style="italic">HLA-B</tspan> mutation</text>
<text x="430.6" y="391.2" font-size="5.2" fill="#111"><tspan font-style="italic">CIITA</tspan> SV</text>
<rect x="286.40" y="393.11" width="6.24" height="2.13" fill="#fdd" />
<rect x="286.40" y="395.19" width="6.24" height="2.65" fill="#f2daec" />
<rect x="286.40" y="397.79" width="6.24" height="5.24" fill="#fdd" />
<rect x="286.40" y="402.98" width="6.24" height="2.65" fill="#e6cccc" />
<rect x="286.40" y="405.57" width="6.24" height="20.81" fill="#fdd" />
<rect x="286.40" y="426.33" width="6.24" height="28.60" fill="#9a9af5" />
<rect x="286.40" y="455.00" width="6.24" height="57.14" fill="#9595f3" />
<rect x="286.40" y="512.09" width="6.24" height="9.57" fill="#aaaaf8" />
<rect x="292.59" y="393.11" width="6.24" height="7.32" fill="#fcc" />
<rect x="292.59" y="400.38" width="6.24" height="5.24" fill="#c4c4c4" />
<rect x="292.59" y="405.57" width="6.24" height="21.68" fill="#fdd" />
<rect x="292.59" y="427.20" width="6.24" height="1.78" fill="#ccc" />
<rect x="292.59" y="428.93" width="6.24" height="11.30" fill="#fcc" />
<rect x="292.59" y="440.17" width="6.24" height="8.70" fill="#e0e0ff" />
<rect x="292.59" y="448.82" width="6.24" height="6.11" fill="#d0d0ff" />
<rect x="292.59" y="455.00" width="6.24" height="1.78" fill="#d0d0ff" />
<rect x="292.59" y="456.73" width="6.24" height="5.24" fill="#c4c4c4" />
<rect x="292.59" y="461.92" width="6.24" height="4.38" fill="#fbb" />
<rect x="292.59" y="466.25" width="6.24" height="4.38" fill="#c4c4c4" />
<rect x="292.59" y="470.57" width="6.24" height="26.00" fill="#f0f0ff" />
<rect x="292.59" y="496.52" width="6.24" height="5.24" fill="#c4c4c4" />
<rect x="292.59" y="501.71" width="6.24" height="19.95" fill="#aaf" />
<rect x="298.77" y="393.11" width="6.24" height="6.45" fill="#e0e0ff" />
<rect x="298.77" y="399.52" width="6.24" height="3.51" fill="#d4d4dc" />
<rect x="298.77" y="402.98" width="6.24" height="19.95" fill="#fff" />
<rect x="298.77" y="422.87" width="6.24" height="32.06" fill="#eef" />
<rect x="298.77" y="455.00" width="6.24" height="11.30" fill="#e8e8ff" />
<rect x="298.77" y="466.25" width="6.24" height="45.03" fill="#ddf" />
<rect x="298.77" y="511.23" width="6.24" height="10.43" fill="#bbf" />
<rect x="304.96" y="393.11" width="6.24" height="61.81" fill="#fff" />
<rect x="304.96" y="455.00" width="6.24" height="1.78" fill="#fff" />
<rect x="304.96" y="456.73" width="6.24" height="5.24" fill="#c4c4c4" />
<rect x="304.96" y="461.92" width="6.24" height="4.38" fill="#ccf" />
<rect x="304.96" y="466.25" width="6.24" height="4.38" fill="#c4c4c4" />
<rect x="304.96" y="470.57" width="6.24" height="51.09" fill="#fff" />
<rect x="311.15" y="393.11" width="6.24" height="7.32" fill="#fff" />
<rect x="311.15" y="400.38" width="6.24" height="2.65" fill="#c4c4c4" />
<rect x="311.15" y="402.98" width="6.24" height="19.95" fill="#fff" />
<rect x="311.15" y="422.87" width="6.24" height="1.78" fill="#ddd" />
<rect x="311.15" y="424.60" width="6.24" height="17.35" fill="#fff" />
<rect x="311.15" y="441.90" width="6.24" height="13.03" fill="#fff0f0" />
<rect x="311.15" y="455.00" width="6.24" height="11.30" fill="#fff0f0" />
<rect x="311.15" y="466.25" width="6.24" height="2.65" fill="#f88" />
<rect x="311.15" y="468.84" width="6.24" height="1.78" fill="#c4c4c4" />
<rect x="311.15" y="470.57" width="6.24" height="41.57" fill="#fff" />
<rect x="311.15" y="512.09" width="6.24" height="9.57" fill="#c4c4c4" />
<rect x="317.33" y="393.11" width="6.24" height="7.32" fill="#fff0f0" />
<rect x="317.33" y="400.38" width="6.24" height="2.65" fill="#c4c4c4" />
<rect x="317.33" y="402.98" width="6.24" height="5.24" fill="#fff0f0" />
<rect x="317.33" y="408.17" width="6.24" height="14.76" fill="#bbb" />
<rect x="317.33" y="422.87" width="6.24" height="32.06" fill="#fee" />
<rect x="317.33" y="455.00" width="6.24" height="6.97" fill="#fee" />
<rect x="317.33" y="461.92" width="6.24" height="2.65" fill="#c4c4c4" />
<rect x="317.33" y="464.52" width="6.24" height="47.63" fill="#fff5f5" />
<rect x="317.33" y="512.09" width="6.24" height="9.57" fill="#fdd" />
<rect x="323.52" y="393.11" width="6.24" height="47.11" fill="#fdd" />
<rect x="323.52" y="440.17" width="6.24" height="14.76" fill="#faa" />
<rect x="323.52" y="455.00" width="6.24" height="11.30" fill="#faa" />
<rect x="323.52" y="466.25" width="6.24" height="55.41" fill="#fcc" />
<rect x="329.71" y="393.11" width="6.24" height="47.11" fill="#f55" />
<rect x="329.71" y="440.17" width="6.24" height="1.78" fill="#fcc" />
<rect x="329.71" y="441.90" width="6.24" height="13.03" fill="#ff4c4c" />
<rect x="329.71" y="455.00" width="6.24" height="13.89" fill="#ff4c4c" />
<rect x="329.71" y="468.84" width="6.24" height="1.78" fill="#b4c0c0" />
<rect x="329.71" y="470.57" width="6.24" height="51.09" fill="#f55" />
<rect x="335.90" y="393.11" width="6.24" height="2.13" fill="#fff" />
<rect x="335.90" y="395.19" width="6.24" height="38.98" fill="#66f" />
<rect x="335.90" y="434.12" width="6.24" height="13.03" fill="#fff8f8" />
<rect x="335.90" y="447.09" width="6.24" height="7.84" fill="#55f" />
<rect x="335.90" y="455.00" width="6.24" height="11.30" fill="#66f" />
<rect x="335.90" y="466.25" width="6.24" height="45.03" fill="#77f" />
<rect x="335.90" y="511.23" width="6.24" height="10.43" fill="#c0c0c0" />
<rect x="342.08" y="393.11" width="6.24" height="46.24" fill="#99f" />
<rect x="342.08" y="439.31" width="6.24" height="2.65" fill="#33f" />
<rect x="342.08" y="441.90" width="6.24" height="13.03" fill="#aaf" />
<rect x="342.08" y="455.00" width="6.24" height="11.30" fill="#aaf" />
<rect x="342.08" y="466.25" width="6.24" height="14.76" fill="#99f" />
<rect x="342.08" y="480.95" width="6.24" height="40.71" fill="#88f" />
<rect x="348.27" y="393.11" width="6.24" height="9.91" fill="#ccf" />
<rect x="348.27" y="402.98" width="6.24" height="1.78" fill="#c4c4c4" />
<rect x="348.27" y="404.71" width="6.24" height="35.52" fill="#ddf" />
<rect x="348.27" y="440.17" width="6.24" height="1.78" fill="#f88" />
<rect x="348.27" y="441.90" width="6.24" height="13.03" fill="#ccf" />
<rect x="348.27" y="455.00" width="6.24" height="66.66" fill="#ddf" />
<rect x="354.46" y="393.11" width="6.24" height="33.27" fill="#fff" />
<rect x="354.46" y="426.33" width="6.24" height="1.78" fill="#ccc" />
<rect x="354.46" y="428.06" width="6.24" height="21.68" fill="#fff" />
<rect x="354.46" y="449.69" width="6.24" height="5.24" fill="#55f" />
<rect x="354.46" y="455.00" width="6.24" height="22.54" fill="#55f" />
<rect x="354.46" y="477.49" width="6.24" height="13.03" fill="#aaf" />
<rect x="354.46" y="490.47" width="6.24" height="19.95" fill="#f99" />
<rect x="354.46" y="510.36" width="6.24" height="11.30" fill="#fee" />
<rect x="360.64" y="393.11" width="6.24" height="6.45" fill="#f99" />
<rect x="360.64" y="399.52" width="6.24" height="2.65" fill="#c4c4c4" />
<rect x="360.64" y="402.11" width="6.24" height="2.65" fill="#e9a" />
<rect x="360.64" y="404.71" width="6.24" height="34.65" fill="#f55" />
<rect x="360.64" y="439.31" width="6.24" height="15.62" fill="#ddf" />
<rect x="360.64" y="455.00" width="6.24" height="5.24" fill="#c4c4c4" />
<rect x="360.64" y="460.19" width="6.24" height="7.84" fill="#55f" />
<rect x="360.64" y="467.98" width="6.24" height="2.65" fill="#c4c4c4" />
<rect x="360.64" y="470.57" width="6.24" height="1.78" fill="#33f" />
<rect x="360.64" y="472.30" width="6.24" height="18.22" fill="#eef" />
<rect x="360.64" y="490.47" width="6.24" height="10.43" fill="#ccf" />
<rect x="360.64" y="500.85" width="6.24" height="20.81" fill="#fff5f5" />
<rect x="366.83" y="393.11" width="6.24" height="47.11" fill="#55f" />
<rect x="366.83" y="440.17" width="6.24" height="1.78" fill="#99f" />
<rect x="366.83" y="441.90" width="6.24" height="7.84" fill="#44f" />
<rect x="366.83" y="449.69" width="6.24" height="1.78" fill="#77f" />
<rect x="366.83" y="451.42" width="6.24" height="3.51" fill="#55f" />
<rect x="366.83" y="455.00" width="6.24" height="6.11" fill="#55f" />
<rect x="366.83" y="461.06" width="6.24" height="3.51" fill="#c4c4c4" />
<rect x="366.83" y="464.52" width="6.24" height="6.11" fill="#55f" />
<rect x="366.83" y="470.57" width="6.24" height="2.65" fill="#f77" />
<rect x="366.83" y="473.17" width="6.24" height="4.38" fill="#c4c4c4" />
<rect x="366.83" y="477.49" width="6.24" height="45.03" fill="#f00" />
<rect x="373.02" y="393.11" width="6.24" height="14.24" fill="#ddf" />
<rect x="373.02" y="407.30" width="6.24" height="14.76" fill="#bbb" />
<rect x="373.02" y="422.01" width="6.24" height="18.22" fill="#eef" />
<rect x="373.02" y="440.17" width="6.24" height="1.78" fill="#fcc" />
<rect x="373.02" y="441.90" width="6.24" height="13.03" fill="#ddf" />
<rect x="373.02" y="455.00" width="6.24" height="35.52" fill="#ddf" />
<rect x="373.02" y="490.47" width="6.24" height="20.81" fill="#eef" />
<rect x="373.02" y="511.23" width="6.24" height="10.43" fill="#ddf" />
<rect x="379.20" y="393.11" width="6.24" height="6.45" fill="#f99" />
<rect x="379.20" y="399.52" width="6.24" height="3.51" fill="#c4c4c4" />
<rect x="379.20" y="402.98" width="6.24" height="4.38" fill="#f77" />
<rect x="379.20" y="407.30" width="6.24" height="32.92" fill="#55f" />
<rect x="379.20" y="440.17" width="6.24" height="14.76" fill="#44f" />
<rect x="379.20" y="455.00" width="6.24" height="6.11" fill="#44f" />
<rect x="379.20" y="461.06" width="6.24" height="3.51" fill="#c4c4c4" />
<rect x="379.20" y="464.52" width="6.24" height="3.51" fill="#f44" />
<rect x="379.20" y="467.98" width="6.24" height="2.30" fill="#c4c4c4" />
<rect x="379.20" y="470.22" width="6.24" height="51.43" fill="#f99" />
<rect x="385.39" y="393.11" width="6.24" height="61.81" fill="#fff" />
<rect x="385.39" y="455.00" width="6.24" height="55.41" fill="#fff" />
<rect x="385.39" y="510.36" width="6.24" height="11.30" fill="#c4c4c4" />
<rect x="391.58" y="393.11" width="6.24" height="6.45" fill="#fff" />
<rect x="391.58" y="399.52" width="6.24" height="5.24" fill="#d0d0d0" />
<rect x="391.58" y="404.71" width="6.24" height="50.22" fill="#fff8f8" />
<rect x="391.58" y="455.00" width="6.24" height="6.11" fill="#fff" />
<rect x="391.58" y="461.06" width="6.24" height="2.65" fill="#c4c4c4" />
<rect x="391.58" y="463.65" width="6.24" height="58.01" fill="#fff" />
<rect x="397.77" y="393.11" width="6.24" height="14.24" fill="#fee" />
<rect x="397.77" y="407.30" width="6.24" height="14.76" fill="#bbb" />
<rect x="397.77" y="422.01" width="6.24" height="17.35" fill="#fee" />
<rect x="397.77" y="439.31" width="6.24" height="2.65" fill="#f33" />
<rect x="397.77" y="441.90" width="6.24" height="13.03" fill="#fff0f0" />
<rect x="397.77" y="455.00" width="6.24" height="66.66" fill="#fff5f5" />
<rect x="403.95" y="393.11" width="6.24" height="14.24" fill="#fee" />
<rect x="403.95" y="407.30" width="6.24" height="14.76" fill="#f00" />
<rect x="403.95" y="422.01" width="6.24" height="1.78" fill="#c4c4c4" />
<rect x="403.95" y="423.74" width="6.24" height="16.49" fill="#fdd" />
<rect x="403.95" y="440.17" width="6.24" height="1.78" fill="#e8d0d0" />
<rect x="403.95" y="441.90" width="6.24" height="13.03" fill="#fee" />
<rect x="403.95" y="455.00" width="6.24" height="66.66" fill="#fff0f0" />
<rect x="410.14" y="393.11" width="6.24" height="47.11" fill="#fdd" />
<rect x="410.14" y="440.17" width="6.24" height="1.78" fill="#faa" />
<rect x="410.14" y="441.90" width="6.24" height="13.03" fill="#fee" />
<rect x="410.14" y="455.00" width="6.24" height="66.66" fill="#fee" />
<rect x="416.33" y="393.11" width="6.24" height="9.05" fill="#fdd" />
<rect x="416.33" y="402.11" width="6.24" height="2.65" fill="#c4c4c4" />
<rect x="416.33" y="404.71" width="6.24" height="35.52" fill="#eef" />
<rect x="416.33" y="440.17" width="6.24" height="1.78" fill="#fff" />
<rect x="416.33" y="441.90" width="6.24" height="13.03" fill="#eef" />
<rect x="416.33" y="455.00" width="6.24" height="11.30" fill="#eef" />
<rect x="416.33" y="466.25" width="6.24" height="1.78" fill="#fff" />
<rect x="416.33" y="467.98" width="6.24" height="2.65" fill="#c4c4c4" />
<rect x="416.33" y="470.57" width="6.24" height="11.30" fill="#fee" />
<rect x="416.33" y="481.82" width="6.24" height="4.38" fill="#c4c4c4" />
<rect x="416.33" y="486.14" width="6.24" height="9.57" fill="#f22" />
<rect x="416.33" y="495.66" width="6.24" height="5.24" fill="#c4c4c4" />
<rect x="416.33" y="500.85" width="6.24" height="20.81" fill="#fdd" />
<rect x="422.51" y="393.11" width="6.24" height="14.24" fill="#f66" />
<rect x="422.51" y="407.30" width="6.24" height="19.08" fill="#f44" />
<rect x="422.51" y="426.33" width="6.24" height="1.78" fill="#c4c4c4" />
<rect x="422.51" y="428.06" width="6.24" height="25.14" fill="#f66" />
<rect x="422.51" y="453.15" width="6.24" height="1.78" fill="#fee" />
<rect x="422.51" y="455.00" width="6.24" height="11.30" fill="#fee" />
<rect x="422.51" y="466.25" width="6.24" height="3.51" fill="#c4c4c4" />
<rect x="422.51" y="469.71" width="6.24" height="41.57" fill="#f88" />
<rect x="422.51" y="511.23" width="6.24" height="10.43" fill="#c4c4c4" />
<line x1="286.40" y1="402.50" x2="431.70" y2="402.50" stroke="#111" stroke-width="0.7" stroke-dasharray="2.6 2.4"/>
<line x1="286.40" y1="423.20" x2="431.70" y2="423.20" stroke="#111" stroke-width="0.7" stroke-dasharray="2.6 2.4"/>
<line x1="286.40" y1="465.70" x2="433.50" y2="465.70" stroke="#111" stroke-width="0.8" stroke-dasharray="1.4 1.2"/>
<path d="M433.2 463.6 L438.4 465.7 L433.2 467.8 Z" fill="#111"/>
<line x1="286.40" y1="521.80" x2="431.70" y2="521.80" stroke="#222" stroke-width="0.8" stroke-dasharray="1.8 1.8"/>
<path d="M428.7 402.5 H432 V423.2 H428.7" fill="none" stroke="#777" stroke-width="0.8"/>
<path d="M422.7 467.9 H432 V521.4 H428.7" fill="none" stroke="#777" stroke-width="0.8"/>
<text x="433.00" y="413.80" font-size="6.9" fill="#111" stroke="#111" stroke-width="0.08" font-style="italic" >MHC II</text>
<text x="439.80" y="467.90" font-size="6.35" fill="#111" stroke="#111" stroke-width="0.08" font-style="italic" >HLA-B</text>
<text x="433.00" y="497.70" font-size="6.8" fill="#111" stroke="#111" stroke-width="0.08" font-style="italic" >MHC I</text>
<rect x="277.30" y="392.60" width="6.60" height="33.10" fill="#bdbdbd" />
<rect x="277.30" y="425.70" width="6.60" height="72.70" fill="#fff" />
<rect x="277.30" y="498.40" width="6.60" height="24.00" fill="#555" />
<rect x="277.3" y="392.6" width="6.6" height="129.8" fill="none" stroke="#222" stroke-width="0.9"/>
<line x1="277.30" y1="425.70" x2="283.90" y2="425.70" stroke="#222" stroke-width="0.8" />
<line x1="277.30" y1="498.40" x2="283.90" y2="498.40" stroke="#222" stroke-width="0.8" />
<text x="250.80" y="414.80" font-size="6.3" fill="#111" stroke="#111" stroke-width="0.08" >6p21.32</text>
<text x="250.80" y="456.30" font-size="6.3" fill="#111" stroke="#111" stroke-width="0.08" >6p21.33</text>
<text x="291.19" y="524.40" font-size="5.05" fill="#333" stroke="#333" stroke-width="0.08" text-anchor="end" transform="rotate(-90 291.19 524.40)" >c_cHL_40</text>
<text x="297.38" y="524.40" font-size="5.05" fill="#333" stroke="#333" stroke-width="0.08" text-anchor="end" transform="rotate(-90 297.38 524.40)" >c_cHL_6</text>
<text x="303.57" y="524.40" font-size="5.05" fill="#333" stroke="#333" stroke-width="0.08" text-anchor="end" transform="rotate(-90 303.57 524.40)" >c_cHL_49</text>
<text x="309.75" y="524.40" font-size="5.05" fill="#333" stroke="#333" stroke-width="0.08" text-anchor="end" transform="rotate(-90 309.75 524.40)" >c_cHL_3</text>
<text x="315.94" y="524.40" font-size="5.05" fill="#333" stroke="#333" stroke-width="0.08" text-anchor="end" transform="rotate(-90 315.94 524.40)" >c_cHL_51</text>
<text x="322.13" y="524.40" font-size="5.05" fill="#333" stroke="#333" stroke-width="0.08" text-anchor="end" transform="rotate(-90 322.13 524.40)" >c_cHL_15</text>
<text x="328.32" y="524.40" font-size="5.05" fill="#333" stroke="#333" stroke-width="0.08" text-anchor="end" transform="rotate(-90 328.32 524.40)" >c_cHL_12</text>
<text x="334.50" y="524.40" font-size="5.05" fill="#333" stroke="#333" stroke-width="0.08" text-anchor="end" transform="rotate(-90 334.50 524.40)" >c_cHL_4</text>
<text x="340.69" y="524.40" font-size="5.05" fill="#333" stroke="#333" stroke-width="0.08" text-anchor="end" transform="rotate(-90 340.69 524.40)" >c_cHL_104</text>
<text x="346.88" y="524.40" font-size="5.05" fill="#333" stroke="#333" stroke-width="0.08" text-anchor="end" transform="rotate(-90 346.88 524.40)" >c_cHL_24</text>
<text x="353.06" y="524.40" font-size="5.05" fill="#333" stroke="#333" stroke-width="0.08" text-anchor="end" transform="rotate(-90 353.06 524.40)" >c_cHL_100</text>
<text x="359.25" y="524.40" font-size="5.05" fill="#333" stroke="#333" stroke-width="0.08" text-anchor="end" transform="rotate(-90 359.25 524.40)" >c_cHL_21</text>
<text x="365.44" y="524.40" font-size="5.05" fill="#333" stroke="#333" stroke-width="0.08" text-anchor="end" transform="rotate(-90 365.44 524.40)" >c_cHL_44</text>
<text x="371.62" y="524.40" font-size="5.05" fill="#333" stroke="#333" stroke-width="0.08" text-anchor="end" transform="rotate(-90 371.62 524.40)" >c_cHL_28</text>
<text x="377.81" y="524.40" font-size="5.05" fill="#333" stroke="#333" stroke-width="0.08" text-anchor="end" transform="rotate(-90 377.81 524.40)" >c_cHL_46</text>
<text x="384.00" y="524.40" font-size="5.05" fill="#333" stroke="#333" stroke-width="0.08" text-anchor="end" transform="rotate(-90 384.00 524.40)" >c_cHL_48</text>
<text x="390.19" y="524.40" font-size="5.05" fill="#333" stroke="#333" stroke-width="0.08" text-anchor="end" transform="rotate(-90 390.19 524.40)" >c_cHL_47</text>
<text x="396.37" y="524.40" font-size="5.05" fill="#333" stroke="#333" stroke-width="0.08" text-anchor="end" transform="rotate(-90 396.37 524.40)" >c_cHL_7</text>
<text x="402.56" y="524.40" font-size="5.05" fill="#333" stroke="#333" stroke-width="0.08" text-anchor="end" transform="rotate(-90 402.56 524.40)" >c_cHL_45</text>
<text x="408.75" y="524.40" font-size="5.05" fill="#333" stroke="#333" stroke-width="0.08" text-anchor="end" transform="rotate(-90 408.75 524.40)" >c_cHL_103</text>
<text x="414.93" y="524.40" font-size="5.05" fill="#333" stroke="#333" stroke-width="0.08" text-anchor="end" transform="rotate(-90 414.93 524.40)" >c_cHL_16</text>
<text x="421.12" y="524.40" font-size="5.05" fill="#333" stroke="#333" stroke-width="0.08" text-anchor="end" transform="rotate(-90 421.12 524.40)" >c_cHL_43</text>
<text x="427.31" y="524.40" font-size="5.05" fill="#333" stroke="#333" stroke-width="0.08" text-anchor="end" transform="rotate(-90 427.31 524.40)" >c_cHL_102</text>
<text x="289.49" y="558.60" font-size="5.5" fill="#111" stroke="#111" stroke-width="0.08" text-anchor="middle" >*</text>
<text x="308.05" y="558.60" font-size="5.5" fill="#111" stroke="#111" stroke-width="0.08" text-anchor="middle" >*</text>
<text x="314.24" y="558.60" font-size="5.5" fill="#111" stroke="#111" stroke-width="0.08" text-anchor="middle" >*</text>
<text x="320.43" y="558.60" font-size="5.5" fill="#111" stroke="#111" stroke-width="0.08" text-anchor="middle" >*</text>
<text x="345.18" y="558.60" font-size="5.5" fill="#111" stroke="#111" stroke-width="0.08" text-anchor="middle" >*</text>
<text x="351.36" y="558.60" font-size="5.5" fill="#111" stroke="#111" stroke-width="0.08" text-anchor="middle" >*</text>
<text x="369.92" y="558.60" font-size="5.5" fill="#111" stroke="#111" stroke-width="0.08" text-anchor="middle" >*</text>
<text x="382.30" y="558.60" font-size="5.5" fill="#111" stroke="#111" stroke-width="0.08" text-anchor="middle" >*</text>
<text x="425.61" y="558.60" font-size="5.5" fill="#111" stroke="#111" stroke-width="0.08" text-anchor="middle" >*</text>
<text x="358.30" y="573.00" font-size="8.27" fill="#111" stroke="#111" stroke-width="0.08" text-anchor="middle" >cHL primary cases</text>
<defs><linearGradient id="cs" x1="0" x2="1" y1="0" y2="0"><stop offset="0" stop-color="#1c1c9c"/><stop offset="0.28" stop-color="#6a6ad8"/><stop offset="0.5" stop-color="#fff"/><stop offset="0.72" stop-color="#f66"/><stop offset="1" stop-color="#f00"/></linearGradient></defs>
<rect x="443.6" y="531.8" width="21.9" height="3.0" rx="1.5" fill="url(#cs)"/>
<text x="442.60" y="539.70" font-size="5.1" fill="#111" stroke="#111" stroke-width="0.08" text-anchor="middle" >-1.5</text>
<text x="454.60" y="539.70" font-size="5.1" fill="#111" stroke="#111" stroke-width="0.08" text-anchor="middle" >0</text>
<text x="467.70" y="539.70" font-size="5.1" fill="#111" stroke="#111" stroke-width="0.08" text-anchor="middle" >1.5</text>
<text x="7.30" y="516.70" font-size="11.6" fill="#000" stroke="#000" stroke-width="0.08" font-weight="bold" >E</text>
<rect x="23.90" y="530.80" width="161.50" height="7.40" fill="#f0f0f0" />
<rect x="23.90" y="538.20" width="161.50" height="8.30" fill="#bcbcbc" />
<line x1="94.80" y1="522.00" x2="94.80" y2="546.70" stroke="#3a3a3a" stroke-width="1.5" />
<line x1="140.40" y1="522.00" x2="140.40" y2="546.70" stroke="#3a3a3a" stroke-width="1.5" />
<text x="25.50" y="537.00" font-size="6.25" fill="#111" stroke="#111" stroke-width="0.08" >MHC class II copy loss</text>
<text x="25.50" y="544.80" font-size="6.25" fill="#111" stroke="#111" stroke-width="0.08" >None defined</text>
<text x="97.70" y="528.60" font-size="6.35" fill="#111" stroke="#111" stroke-width="0.08" >MHC class II -</text>
<text x="142.40" y="528.60" font-size="6.4" fill="#111" stroke="#111" stroke-width="0.08" >MHC class II +</text>
<text x="117.80" y="537.00" font-size="6.25" fill="#111" stroke="#111" stroke-width="0.08" text-anchor="middle" >3</text>
<text x="117.80" y="544.80" font-size="6.25" fill="#111" stroke="#111" stroke-width="0.08" text-anchor="middle" >1</text>
<text x="163.50" y="537.00" font-size="6.25" fill="#111" stroke="#111" stroke-width="0.08" text-anchor="middle" >0</text>
<text x="163.50" y="544.80" font-size="6.25" fill="#111" stroke="#111" stroke-width="0.08" text-anchor="middle" >5</text>
<text x="185.40" y="554.60" font-size="6.25" fill="#111" stroke="#111" stroke-width="0.08" text-anchor="end" >p=0.048</text>
<rect x="0.00" y="0.00" width="1.30" height="581.00" fill="#000" />
<rect x="0.00" y="0.00" width="520.00" height="1.15" fill="#000" />
<rect x="518.85" y="0.00" width="1.15" height="581.00" fill="#000" />
<rect x="0.00" y="579.85" width="520.00" height="1.15" fill="#000" />
</svg>
</body></html>
